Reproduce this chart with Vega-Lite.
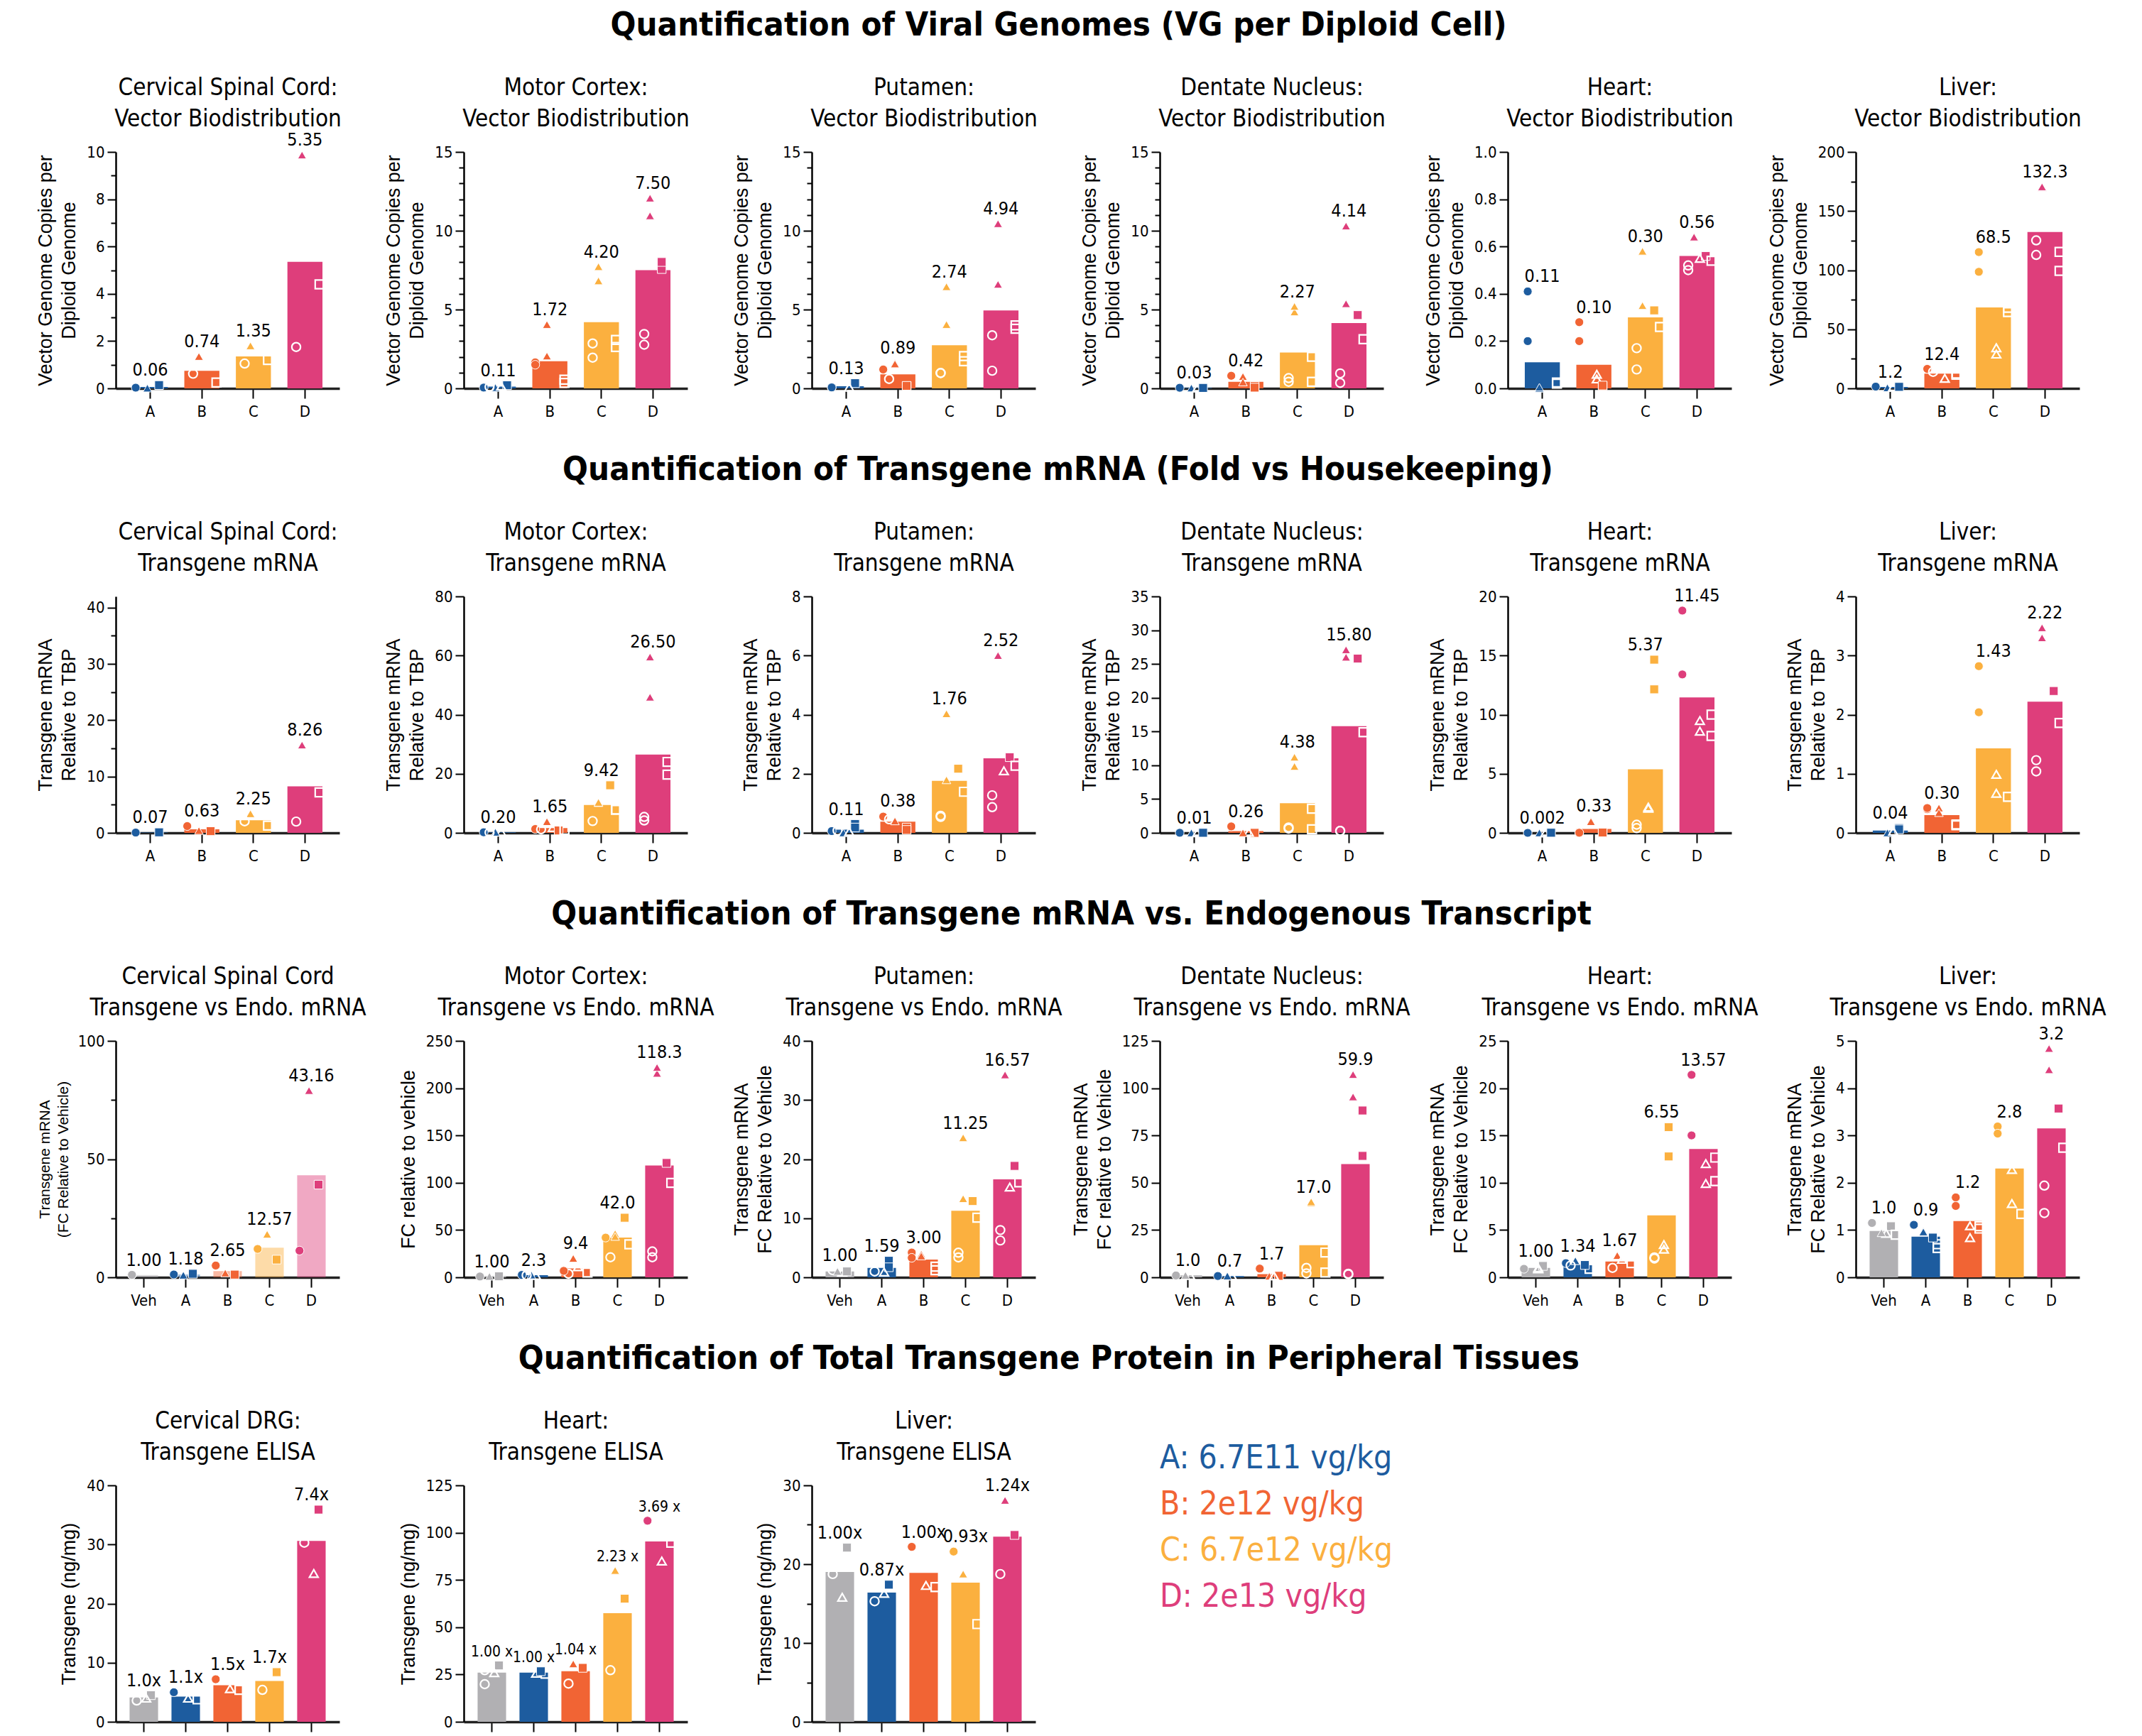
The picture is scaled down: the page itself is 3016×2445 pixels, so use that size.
{
"$schema": "https://vega.github.io/schema/vega-lite/v6.json",
"background": "white",
"padding": {"left": 50, "top": 12, "right": 5, "bottom": 0},
"spacing": 48,
"config": {
 "view": {"stroke": null},
 "font": "DejaVu Sans Condensed, Liberation Sans, sans-serif",
 "title": {"font": "DejaVu Sans Condensed, Liberation Sans, sans-serif", "fontSize": 47, "fontWeight": "bold", "anchor": "middle", "frame": "bounds", "offset": 47, "color": "black"},
 "axis": {"grid": false, "domainColor": "black", "domainWidth": 2.5, "tickColor": "black", "tickWidth": 2, "tickSize": 12, "labelFont": "DejaVu Sans Condensed, Liberation Sans, sans-serif", "labelFontSize": 22, "labelColor": "black", "titleFont": "Liberation Sans", "titleFontSize": 27, "titleFontWeight": "normal", "titleColor": "black", "labelPadding": 4, "titlePadding": 10, "titleLineHeight": 33},
 "axisX": {"labelAngle": 0, "tickSize": 14, "domainWidth": 3.5, "domainColor": "#222222", "labelPadding": 8},
 "scale": {"bandPaddingInner": 0.32, "bandPaddingOuter": 0.33, "bandWithNestedOffsetPaddingInner": 0.32, "bandWithNestedOffsetPaddingOuter": 0.33, "offsetBandPaddingOuter": 2.0},
 "range": {"category": ["#B1B0B3", "#1D5C9F", "#F16434", "#FBB03F", "#DE3E7B"], "symbol": ["circle", "square", "triangle-up", "circle", "square", "triangle-up"]},
 "text": {"font": "DejaVu Sans Condensed, Liberation Sans, sans-serif", "fontSize": 25, "color": "black"}
},
"data": {"values": [
{"p":"1a","g":"A","k":"bar","v":0.06,"l":"0.06"},{"p":"1a","g":"B","k":"bar","v":0.74,"l":"0.74"},{"p":"1a","g":"C","k":"bar","v":1.35,"l":"1.35"},{"p":"1a","g":"D","k":"bar","v":5.35,"l":"5.35"},
{"p":"1b","g":"A","k":"bar","v":0.11,"l":"0.11"},{"p":"1b","g":"B","k":"bar","v":1.72,"l":"1.72"},{"p":"1b","g":"C","k":"bar","v":4.20,"l":"4.20"},{"p":"1b","g":"D","k":"bar","v":7.50,"l":"7.50"},
{"p":"1c","g":"A","k":"bar","v":0.13,"l":"0.13"},{"p":"1c","g":"B","k":"bar","v":0.89,"l":"0.89"},{"p":"1c","g":"C","k":"bar","v":2.74,"l":"2.74"},{"p":"1c","g":"D","k":"bar","v":4.94,"l":"4.94"},
{"p":"1d","g":"A","k":"bar","v":0.03,"l":"0.03"},{"p":"1d","g":"B","k":"bar","v":0.42,"l":"0.42"},{"p":"1d","g":"C","k":"bar","v":2.27,"l":"2.27"},{"p":"1d","g":"D","k":"bar","v":4.14,"l":"4.14"},
{"p":"1e","g":"A","k":"bar","v":0.11,"l":"0.11"},{"p":"1e","g":"B","k":"bar","v":0.10,"l":"0.10"},{"p":"1e","g":"C","k":"bar","v":0.30,"l":"0.30"},{"p":"1e","g":"D","k":"bar","v":0.56,"l":"0.56"},
{"p":"1f","g":"A","k":"bar","v":1.2,"l":"1.2"},{"p":"1f","g":"B","k":"bar","v":12.4,"l":"12.4"},{"p":"1f","g":"C","k":"bar","v":68.5,"l":"68.5"},{"p":"1f","g":"D","k":"bar","v":132.3,"l":"132.3"},
{"p":"2a","g":"A","k":"bar","v":0.07,"l":"0.07"},{"p":"2a","g":"B","k":"bar","v":0.63,"l":"0.63"},{"p":"2a","g":"C","k":"bar","v":2.25,"l":"2.25"},{"p":"2a","g":"D","k":"bar","v":8.26,"l":"8.26"},
{"p":"2b","g":"A","k":"bar","v":0.20,"l":"0.20"},{"p":"2b","g":"B","k":"bar","v":1.65,"l":"1.65"},{"p":"2b","g":"C","k":"bar","v":9.42,"l":"9.42"},{"p":"2b","g":"D","k":"bar","v":26.50,"l":"26.50"},
{"p":"2c","g":"A","k":"bar","v":0.11,"l":"0.11"},{"p":"2c","g":"B","k":"bar","v":0.38,"l":"0.38"},{"p":"2c","g":"C","k":"bar","v":1.76,"l":"1.76"},{"p":"2c","g":"D","k":"bar","v":2.52,"l":"2.52"},
{"p":"2d","g":"A","k":"bar","v":0.01,"l":"0.01"},{"p":"2d","g":"B","k":"bar","v":0.26,"l":"0.26"},{"p":"2d","g":"C","k":"bar","v":4.38,"l":"4.38"},{"p":"2d","g":"D","k":"bar","v":15.80,"l":"15.80"},
{"p":"2e","g":"A","k":"bar","v":0.002,"l":"0.002"},{"p":"2e","g":"B","k":"bar","v":0.33,"l":"0.33"},{"p":"2e","g":"C","k":"bar","v":5.37,"l":"5.37"},{"p":"2e","g":"D","k":"bar","v":11.45,"l":"11.45"},
{"p":"2f","g":"A","k":"bar","v":0.04,"l":"0.04"},{"p":"2f","g":"B","k":"bar","v":0.30,"l":"0.30"},{"p":"2f","g":"C","k":"bar","v":1.43,"l":"1.43"},{"p":"2f","g":"D","k":"bar","v":2.22,"l":"2.22"},
{"p":"3a","g":"Veh","k":"bar","v":1.0,"l":"1.00"},{"p":"3a","g":"A","k":"bar","v":1.18,"l":"1.18"},{"p":"3a","g":"B","k":"bar","v":2.65,"l":"2.65"},{"p":"3a","g":"C","k":"bar","v":12.57,"l":"12.57"},{"p":"3a","g":"D","k":"bar","v":43.16,"l":"43.16"},
{"p":"3b","g":"Veh","k":"bar","v":1.0,"l":"1.00"},{"p":"3b","g":"A","k":"bar","v":2.3,"l":"2.3"},{"p":"3b","g":"B","k":"bar","v":9.4,"l":"9.4"},{"p":"3b","g":"C","k":"bar","v":42.0,"l":"42.0"},{"p":"3b","g":"D","k":"bar","v":118.3,"l":"118.3"},
{"p":"3c","g":"Veh","k":"bar","v":1.0,"l":"1.00"},{"p":"3c","g":"A","k":"bar","v":1.59,"l":"1.59"},{"p":"3c","g":"B","k":"bar","v":3.0,"l":"3.00"},{"p":"3c","g":"C","k":"bar","v":11.25,"l":"11.25"},{"p":"3c","g":"D","k":"bar","v":16.57,"l":"16.57"},
{"p":"3d","g":"Veh","k":"bar","v":1.0,"l":"1.0"},{"p":"3d","g":"A","k":"bar","v":0.7,"l":"0.7"},{"p":"3d","g":"B","k":"bar","v":1.7,"l":"1.7"},{"p":"3d","g":"C","k":"bar","v":17.0,"l":"17.0"},{"p":"3d","g":"D","k":"bar","v":59.9,"l":"59.9"},
{"p":"3e","g":"Veh","k":"bar","v":1.0,"l":"1.00"},{"p":"3e","g":"A","k":"bar","v":1.34,"l":"1.34"},{"p":"3e","g":"B","k":"bar","v":1.67,"l":"1.67"},{"p":"3e","g":"C","k":"bar","v":6.55,"l":"6.55"},{"p":"3e","g":"D","k":"bar","v":13.57,"l":"13.57"},
{"p":"3f","g":"Veh","k":"bar","v":0.98,"l":"1.0"},{"p":"3f","g":"A","k":"bar","v":0.86,"l":"0.9"},{"p":"3f","g":"B","k":"bar","v":1.19,"l":"1.2"},{"p":"3f","g":"C","k":"bar","v":2.30,"l":"2.8"},{"p":"3f","g":"D","k":"bar","v":3.15,"l":"3.2"},
{"p":"4a","g":"Veh","k":"bar","v":4.1,"l":"1.0x"},{"p":"4a","g":"A","k":"bar","v":4.25,"l":"1.1x"},{"p":"4a","g":"B","k":"bar","v":6.2,"l":"1.5x"},{"p":"4a","g":"C","k":"bar","v":6.9,"l":"1.7x"},{"p":"4a","g":"D","k":"bar","v":30.6,"l":"7.4x"},
{"p":"4b","g":"Veh","k":"bar","v":26.0,"l":"1.00 x"},{"p":"4b","g":"A","k":"bar","v":26.0,"l":"1.00 x"},{"p":"4b","g":"B","k":"bar","v":26.7,"l":"1.04 x"},{"p":"4b","g":"C","k":"bar","v":57.4,"l":"2.23 x"},{"p":"4b","g":"D","k":"bar","v":95.3,"l":"3.69 x"},
{"p":"4c","g":"Veh","k":"bar","v":19.0,"l":"1.00x"},{"p":"4c","g":"A","k":"bar","v":16.4,"l":"0.87x"},{"p":"4c","g":"B","k":"bar","v":18.9,"l":"1.00x"},{"p":"4c","g":"C","k":"bar","v":17.65,"l":"0.93x"},{"p":"4c","g":"D","k":"bar","v":23.5,"l":"1.24x"},

{"p":"1a","g":"A","k":"pt","c":1,"v":0.03},{"p":"1a","g":"A","k":"pt","c":2,"v":0.14},{"p":"1a","g":"A","k":"pt","c":3,"v":0.01},
{"p":"1a","g":"B","k":"pt","c":3,"v":1.35},{"p":"1a","g":"B","k":"pt","c":5,"v":0.25},{"p":"1a","g":"B","k":"pt","c":4,"v":0.62},
{"p":"1a","g":"C","k":"pt","c":3,"v":1.8},{"p":"1a","g":"C","k":"pt","c":4,"v":1.05},{"p":"1a","g":"C","k":"pt","c":5,"v":1.2},
{"p":"1a","g":"D","k":"pt","c":3,"v":9.87},{"p":"1a","g":"D","k":"pt","c":5,"v":4.4},{"p":"1a","g":"D","k":"pt","c":4,"v":1.75},

{"p":"1b","g":"A","k":"pt","c":1,"v":0.05},{"p":"1b","g":"A","k":"pt","c":2,"v":0.2},{"p":"1b","g":"A","k":"pt","c":3,"v":0.05},{"p":"1b","g":"A","k":"pt","c":6,"v":0.15},{"p":"1b","g":"A","k":"pt","c":4,"v":0.1},
{"p":"1b","g":"B","k":"pt","c":3,"v":4.05},{"p":"1b","g":"B","k":"pt","c":3,"v":2.05},{"p":"1b","g":"B","k":"pt","c":1,"v":1.65},{"p":"1b","g":"B","k":"pt","c":1,"v":1.5},{"p":"1b","g":"B","k":"pt","c":5,"v":0.35},{"p":"1b","g":"B","k":"pt","c":5,"v":0.55},
{"p":"1b","g":"C","k":"pt","c":3,"v":7.72},{"p":"1b","g":"C","k":"pt","c":3,"v":6.82},{"p":"1b","g":"C","k":"pt","c":5,"v":3.07},{"p":"1b","g":"C","k":"pt","c":4,"v":2.85},{"p":"1b","g":"C","k":"pt","c":5,"v":2.62},{"p":"1b","g":"C","k":"pt","c":4,"v":1.95},
{"p":"1b","g":"D","k":"pt","c":3,"v":12.07},{"p":"1b","g":"D","k":"pt","c":3,"v":10.95},{"p":"1b","g":"D","k":"pt","c":2,"v":7.57},{"p":"1b","g":"D","k":"pt","c":2,"v":8.02},{"p":"1b","g":"D","k":"pt","c":4,"v":2.77},{"p":"1b","g":"D","k":"pt","c":4,"v":3.45},

{"p":"1c","g":"A","k":"pt","c":2,"v":0.33},{"p":"1c","g":"A","k":"pt","c":1,"v":0.05},{"p":"1c","g":"A","k":"pt","c":1,"v":0.06},{"p":"1c","g":"A","k":"pt","c":6,"v":0.08},
{"p":"1c","g":"B","k":"pt","c":3,"v":1.6},{"p":"1c","g":"B","k":"pt","c":3,"v":1.55},{"p":"1c","g":"B","k":"pt","c":1,"v":1.2},{"p":"1c","g":"B","k":"pt","c":2,"v":0.15},{"p":"1c","g":"B","k":"pt","c":2,"v":0.16},{"p":"1c","g":"B","k":"pt","c":4,"v":0.6},
{"p":"1c","g":"C","k":"pt","c":3,"v":6.45},{"p":"1c","g":"C","k":"pt","c":3,"v":4.05},{"p":"1c","g":"C","k":"pt","c":5,"v":1.72},{"p":"1c","g":"C","k":"pt","c":5,"v":2.05},{"p":"1c","g":"C","k":"pt","c":4,"v":0.97},{"p":"1c","g":"C","k":"pt","c":4,"v":0.98},
{"p":"1c","g":"D","k":"pt","c":3,"v":10.45},{"p":"1c","g":"D","k":"pt","c":3,"v":6.6},{"p":"1c","g":"D","k":"pt","c":5,"v":4.0},{"p":"1c","g":"D","k":"pt","c":5,"v":3.78},{"p":"1c","g":"D","k":"pt","c":4,"v":3.37},{"p":"1c","g":"D","k":"pt","c":4,"v":1.12},

{"p":"1d","g":"A","k":"pt","c":3,"v":0.02},{"p":"1d","g":"A","k":"pt","c":6,"v":0.03},{"p":"1d","g":"A","k":"pt","c":1,"v":0.04},{"p":"1d","g":"A","k":"pt","c":2,"v":0.03},
{"p":"1d","g":"B","k":"pt","c":3,"v":0.75},{"p":"1d","g":"B","k":"pt","c":1,"v":0.8},{"p":"1d","g":"B","k":"pt","c":2,"v":0.15},{"p":"1d","g":"B","k":"pt","c":2,"v":0.05},{"p":"1d","g":"B","k":"pt","c":3,"v":0.4},
{"p":"1d","g":"C","k":"pt","c":3,"v":4.85},{"p":"1d","g":"C","k":"pt","c":3,"v":5.2},{"p":"1d","g":"C","k":"pt","c":5,"v":2.0},{"p":"1d","g":"C","k":"pt","c":5,"v":0.42},{"p":"1d","g":"C","k":"pt","c":4,"v":0.65},{"p":"1d","g":"C","k":"pt","c":4,"v":0.42},
{"p":"1d","g":"D","k":"pt","c":3,"v":10.3},{"p":"1d","g":"D","k":"pt","c":3,"v":5.37},{"p":"1d","g":"D","k":"pt","c":2,"v":4.65},{"p":"1d","g":"D","k":"pt","c":5,"v":3.12},{"p":"1d","g":"D","k":"pt","c":4,"v":0.95},{"p":"1d","g":"D","k":"pt","c":4,"v":0.35},

{"p":"1e","g":"A","k":"pt","c":1,"v":0.41},{"p":"1e","g":"A","k":"pt","c":1,"v":0.20},{"p":"1e","g":"A","k":"pt","c":5,"v":0.02},{"p":"1e","g":"A","k":"pt","c":5,"v":0.025},{"p":"1e","g":"A","k":"pt","c":3,"v":0.0},{"p":"1e","g":"A","k":"pt","c":3,"v":0.005},
{"p":"1e","g":"B","k":"pt","c":1,"v":0.28},{"p":"1e","g":"B","k":"pt","c":1,"v":0.20},{"p":"1e","g":"B","k":"pt","c":6,"v":0.06},{"p":"1e","g":"B","k":"pt","c":6,"v":0.04},{"p":"1e","g":"B","k":"pt","c":2,"v":0.01},{"p":"1e","g":"B","k":"pt","c":2,"v":0.012},
{"p":"1e","g":"C","k":"pt","c":3,"v":0.58},{"p":"1e","g":"C","k":"pt","c":3,"v":0.35},{"p":"1e","g":"C","k":"pt","c":2,"v":0.33},{"p":"1e","g":"C","k":"pt","c":5,"v":0.26},{"p":"1e","g":"C","k":"pt","c":4,"v":0.17},{"p":"1e","g":"C","k":"pt","c":4,"v":0.08},
{"p":"1e","g":"D","k":"pt","c":3,"v":0.64},{"p":"1e","g":"D","k":"pt","c":2,"v":0.56},{"p":"1e","g":"D","k":"pt","c":6,"v":0.55},{"p":"1e","g":"D","k":"pt","c":4,"v":0.50},{"p":"1e","g":"D","k":"pt","c":4,"v":0.52},{"p":"1e","g":"D","k":"pt","c":5,"v":0.54},

{"p":"1f","g":"A","k":"pt","c":3,"v":0.5},{"p":"1f","g":"A","k":"pt","c":6,"v":1.5},{"p":"1f","g":"A","k":"pt","c":1,"v":1.5},{"p":"1f","g":"A","k":"pt","c":2,"v":1.3},
{"p":"1f","g":"B","k":"pt","c":1,"v":16.5},{"p":"1f","g":"B","k":"pt","c":5,"v":12.5},{"p":"1f","g":"B","k":"pt","c":5,"v":11.5},{"p":"1f","g":"B","k":"pt","c":4,"v":14},{"p":"1f","g":"B","k":"pt","c":6,"v":8.5},
{"p":"1f","g":"C","k":"pt","c":1,"v":115.3},{"p":"1f","g":"C","k":"pt","c":1,"v":98.6},{"p":"1f","g":"C","k":"pt","c":5,"v":64.6},{"p":"1f","g":"C","k":"pt","c":5,"v":68.2},{"p":"1f","g":"C","k":"pt","c":6,"v":29},{"p":"1f","g":"C","k":"pt","c":6,"v":34.4},
{"p":"1f","g":"D","k":"pt","c":3,"v":170},{"p":"1f","g":"D","k":"pt","c":3,"v":170.5},{"p":"1f","g":"D","k":"pt","c":4,"v":125.2},{"p":"1f","g":"D","k":"pt","c":4,"v":112.9},{"p":"1f","g":"D","k":"pt","c":5,"v":115.5},{"p":"1f","g":"D","k":"pt","c":5,"v":99.4},

{"p":"2a","g":"A","k":"pt","c":1,"v":0.05},{"p":"2a","g":"A","k":"pt","c":2,"v":0.1},
{"p":"2a","g":"B","k":"pt","c":2,"v":0.3},{"p":"2a","g":"B","k":"pt","c":1,"v":1.2},{"p":"2a","g":"B","k":"pt","c":3,"v":0.4},
{"p":"2a","g":"C","k":"pt","c":3,"v":3.4},{"p":"2a","g":"C","k":"pt","c":4,"v":2.05},{"p":"2a","g":"C","k":"pt","c":5,"v":1.3},
{"p":"2a","g":"D","k":"pt","c":3,"v":15.6},{"p":"2a","g":"D","k":"pt","c":5,"v":7.2},{"p":"2a","g":"D","k":"pt","c":4,"v":2.0},

{"p":"2b","g":"A","k":"pt","c":1,"v":0.2},{"p":"2b","g":"A","k":"pt","c":6,"v":0.3},{"p":"2b","g":"A","k":"pt","c":3,"v":0.2},{"p":"2b","g":"A","k":"pt","c":4,"v":0.1},
{"p":"2b","g":"B","k":"pt","c":3,"v":3.8},{"p":"2b","g":"B","k":"pt","c":6,"v":1.8},{"p":"2b","g":"B","k":"pt","c":1,"v":1.3},{"p":"2b","g":"B","k":"pt","c":2,"v":0.8},{"p":"2b","g":"B","k":"pt","c":4,"v":1.2},{"p":"2b","g":"B","k":"pt","c":5,"v":1.0},
{"p":"2b","g":"C","k":"pt","c":2,"v":16.1},{"p":"2b","g":"C","k":"pt","c":3,"v":10.2},{"p":"2b","g":"C","k":"pt","c":3,"v":10.3},{"p":"2b","g":"C","k":"pt","c":5,"v":7.9},{"p":"2b","g":"C","k":"pt","c":5,"v":7.8},{"p":"2b","g":"C","k":"pt","c":4,"v":4.0},
{"p":"2b","g":"D","k":"pt","c":3,"v":59.5},{"p":"2b","g":"D","k":"pt","c":3,"v":45.9},{"p":"2b","g":"D","k":"pt","c":5,"v":24.0},{"p":"2b","g":"D","k":"pt","c":5,"v":19.7},{"p":"2b","g":"D","k":"pt","c":4,"v":4.2},{"p":"2b","g":"D","k":"pt","c":4,"v":5.4},

{"p":"2c","g":"A","k":"pt","c":2,"v":0.3},{"p":"2c","g":"A","k":"pt","c":2,"v":0.18},{"p":"2c","g":"A","k":"pt","c":1,"v":0.06},{"p":"2c","g":"A","k":"pt","c":4,"v":0.08},{"p":"2c","g":"A","k":"pt","c":3,"v":0.0},{"p":"2c","g":"A","k":"pt","c":6,"v":0.04},
{"p":"2c","g":"B","k":"pt","c":6,"v":0.58},{"p":"2c","g":"B","k":"pt","c":1,"v":0.55},{"p":"2c","g":"B","k":"pt","c":4,"v":0.46},{"p":"2c","g":"B","k":"pt","c":2,"v":0.18},{"p":"2c","g":"B","k":"pt","c":2,"v":0.1},{"p":"2c","g":"B","k":"pt","c":3,"v":0.4},
{"p":"2c","g":"C","k":"pt","c":3,"v":4.03},{"p":"2c","g":"C","k":"pt","c":2,"v":2.17},{"p":"2c","g":"C","k":"pt","c":3,"v":1.79},{"p":"2c","g":"C","k":"pt","c":5,"v":1.39},{"p":"2c","g":"C","k":"pt","c":4,"v":0.54},{"p":"2c","g":"C","k":"pt","c":4,"v":0.58},
{"p":"2c","g":"D","k":"pt","c":3,"v":6.0},{"p":"2c","g":"D","k":"pt","c":2,"v":2.56},{"p":"2c","g":"D","k":"pt","c":5,"v":2.27},{"p":"2c","g":"D","k":"pt","c":6,"v":2.10},{"p":"2c","g":"D","k":"pt","c":4,"v":1.27},{"p":"2c","g":"D","k":"pt","c":4,"v":0.87},

{"p":"2d","g":"A","k":"pt","c":3,"v":0.0},{"p":"2d","g":"A","k":"pt","c":6,"v":0.02},{"p":"2d","g":"A","k":"pt","c":2,"v":0.01},{"p":"2d","g":"A","k":"pt","c":1,"v":0.01},
{"p":"2d","g":"B","k":"pt","c":1,"v":0.95},{"p":"2d","g":"B","k":"pt","c":2,"v":0.0},{"p":"2d","g":"B","k":"pt","c":6,"v":0.1},{"p":"2d","g":"B","k":"pt","c":3,"v":0.0},
{"p":"2d","g":"C","k":"pt","c":3,"v":9.83},{"p":"2d","g":"C","k":"pt","c":3,"v":11.2},{"p":"2d","g":"C","k":"pt","c":5,"v":3.58},{"p":"2d","g":"C","k":"pt","c":4,"v":0.63},{"p":"2d","g":"C","k":"pt","c":4,"v":0.8},{"p":"2d","g":"C","k":"pt","c":5,"v":0.52},
{"p":"2d","g":"D","k":"pt","c":3,"v":27.1},{"p":"2d","g":"D","k":"pt","c":3,"v":26.0},{"p":"2d","g":"D","k":"pt","c":2,"v":25.8},{"p":"2d","g":"D","k":"pt","c":5,"v":14.9},{"p":"2d","g":"D","k":"pt","c":4,"v":0.28},{"p":"2d","g":"D","k":"pt","c":4,"v":0.3},

{"p":"2e","g":"A","k":"pt","c":3,"v":0.0},{"p":"2e","g":"A","k":"pt","c":6,"v":0.0},{"p":"2e","g":"A","k":"pt","c":2,"v":0.01},{"p":"2e","g":"A","k":"pt","c":1,"v":0.0},
{"p":"2e","g":"B","k":"pt","c":3,"v":1.0},{"p":"2e","g":"B","k":"pt","c":3,"v":0.95},{"p":"2e","g":"B","k":"pt","c":1,"v":0.0},{"p":"2e","g":"B","k":"pt","c":1,"v":0.01},{"p":"2e","g":"B","k":"pt","c":2,"v":0.0},{"p":"2e","g":"B","k":"pt","c":2,"v":0.03},
{"p":"2e","g":"C","k":"pt","c":2,"v":14.65},{"p":"2e","g":"C","k":"pt","c":2,"v":12.14},{"p":"2e","g":"C","k":"pt","c":6,"v":2.08},{"p":"2e","g":"C","k":"pt","c":6,"v":2.18},{"p":"2e","g":"C","k":"pt","c":4,"v":0.4},{"p":"2e","g":"C","k":"pt","c":4,"v":0.69},
{"p":"2e","g":"D","k":"pt","c":1,"v":18.8},{"p":"2e","g":"D","k":"pt","c":1,"v":13.4},{"p":"2e","g":"D","k":"pt","c":5,"v":10.0},{"p":"2e","g":"D","k":"pt","c":6,"v":9.5},{"p":"2e","g":"D","k":"pt","c":5,"v":8.2},{"p":"2e","g":"D","k":"pt","c":6,"v":8.6},

{"p":"2f","g":"A","k":"pt","c":3,"v":0.0},{"p":"2f","g":"A","k":"pt","c":2,"v":0.08},{"p":"2f","g":"A","k":"pt","c":2,"v":0.06},{"p":"2f","g":"A","k":"pt","c":6,"v":0.03},
{"p":"2f","g":"B","k":"pt","c":1,"v":0.40},{"p":"2f","g":"B","k":"pt","c":1,"v":0.42},{"p":"2f","g":"B","k":"pt","c":3,"v":0.42},{"p":"2f","g":"B","k":"pt","c":3,"v":0.34},{"p":"2f","g":"B","k":"pt","c":5,"v":0.13},{"p":"2f","g":"B","k":"pt","c":5,"v":0.14},
{"p":"2f","g":"C","k":"pt","c":1,"v":2.82},{"p":"2f","g":"C","k":"pt","c":1,"v":2.04},{"p":"2f","g":"C","k":"pt","c":6,"v":0.99},{"p":"2f","g":"C","k":"pt","c":6,"v":0.67},{"p":"2f","g":"C","k":"pt","c":5,"v":0.61},
{"p":"2f","g":"D","k":"pt","c":3,"v":3.30},{"p":"2f","g":"D","k":"pt","c":3,"v":3.47},{"p":"2f","g":"D","k":"pt","c":2,"v":2.40},{"p":"2f","g":"D","k":"pt","c":5,"v":1.86},{"p":"2f","g":"D","k":"pt","c":4,"v":1.04},{"p":"2f","g":"D","k":"pt","c":4,"v":1.23},

{"p":"3a","g":"Veh","k":"pt","c":1,"v":1.0},{"p":"3a","g":"Veh","k":"pt","c":1,"v":1.05},
{"p":"3a","g":"A","k":"pt","c":1,"v":1.2},{"p":"3a","g":"A","k":"pt","c":2,"v":1.5},{"p":"3a","g":"A","k":"pt","c":3,"v":0.9},
{"p":"3a","g":"B","k":"pt","c":1,"v":5.0},{"p":"3a","g":"B","k":"pt","c":3,"v":1.8},{"p":"3a","g":"B","k":"pt","c":2,"v":1.15},
{"p":"3a","g":"C","k":"pt","c":3,"v":18.2},{"p":"3a","g":"C","k":"pt","c":1,"v":12.0},{"p":"3a","g":"C","k":"pt","c":2,"v":7.5},
{"p":"3a","g":"D","k":"pt","c":3,"v":79},{"p":"3a","g":"D","k":"pt","c":2,"v":39.2},{"p":"3a","g":"D","k":"pt","c":1,"v":11.3},

{"p":"3b","g":"Veh","k":"pt","c":3,"v":1},{"p":"3b","g":"Veh","k":"pt","c":2,"v":1.1},{"p":"3b","g":"Veh","k":"pt","c":1,"v":0.9},
{"p":"3b","g":"A","k":"pt","c":1,"v":2.5},{"p":"3b","g":"A","k":"pt","c":6,"v":2.0},{"p":"3b","g":"A","k":"pt","c":3,"v":2.4},{"p":"3b","g":"A","k":"pt","c":4,"v":2.3},
{"p":"3b","g":"B","k":"pt","c":3,"v":20},{"p":"3b","g":"B","k":"pt","c":6,"v":11.2},{"p":"3b","g":"B","k":"pt","c":5,"v":5.0},{"p":"3b","g":"B","k":"pt","c":4,"v":3.8},{"p":"3b","g":"B","k":"pt","c":1,"v":6.8},
{"p":"3b","g":"C","k":"pt","c":2,"v":63},{"p":"3b","g":"C","k":"pt","c":3,"v":46.1},{"p":"3b","g":"C","k":"pt","c":3,"v":43.1},{"p":"3b","g":"C","k":"pt","c":1,"v":42},{"p":"3b","g":"C","k":"pt","c":5,"v":34.9},{"p":"3b","g":"C","k":"pt","c":4,"v":21.2},
{"p":"3b","g":"D","k":"pt","c":3,"v":215.7},{"p":"3b","g":"D","k":"pt","c":3,"v":221.9},{"p":"3b","g":"D","k":"pt","c":2,"v":120.9},{"p":"3b","g":"D","k":"pt","c":5,"v":99.8},{"p":"3b","g":"D","k":"pt","c":4,"v":21.2},{"p":"3b","g":"D","k":"pt","c":4,"v":27.4},

{"p":"3c","g":"Veh","k":"pt","c":4,"v":1.2},{"p":"3c","g":"Veh","k":"pt","c":6,"v":0.9},{"p":"3c","g":"Veh","k":"pt","c":2,"v":1.0},{"p":"3c","g":"Veh","k":"pt","c":3,"v":1.0},
{"p":"3c","g":"A","k":"pt","c":2,"v":2.8},{"p":"3c","g":"A","k":"pt","c":2,"v":1.7},{"p":"3c","g":"A","k":"pt","c":4,"v":1.0},{"p":"3c","g":"A","k":"pt","c":6,"v":0.9},
{"p":"3c","g":"B","k":"pt","c":1,"v":4.2},{"p":"3c","g":"B","k":"pt","c":3,"v":3.9},{"p":"3c","g":"B","k":"pt","c":1,"v":3.3},{"p":"3c","g":"B","k":"pt","c":5,"v":1.8},{"p":"3c","g":"B","k":"pt","c":5,"v":1.2},{"p":"3c","g":"B","k":"pt","c":3,"v":3.6},
{"p":"3c","g":"C","k":"pt","c":3,"v":23.6},{"p":"3c","g":"C","k":"pt","c":3,"v":13.3},{"p":"3c","g":"C","k":"pt","c":2,"v":12.9},{"p":"3c","g":"C","k":"pt","c":5,"v":10.1},{"p":"3c","g":"C","k":"pt","c":4,"v":3.37},{"p":"3c","g":"C","k":"pt","c":4,"v":4.17},
{"p":"3c","g":"D","k":"pt","c":3,"v":34.25},{"p":"3c","g":"D","k":"pt","c":2,"v":18.85},{"p":"3c","g":"D","k":"pt","c":5,"v":16.07},{"p":"3c","g":"D","k":"pt","c":6,"v":15.28},{"p":"3c","g":"D","k":"pt","c":4,"v":8.0},{"p":"3c","g":"D","k":"pt","c":4,"v":6.23},

{"p":"3d","g":"Veh","k":"pt","c":1,"v":1.0},{"p":"3d","g":"Veh","k":"pt","c":6,"v":1.0},{"p":"3d","g":"Veh","k":"pt","c":3,"v":1.0},
{"p":"3d","g":"A","k":"pt","c":1,"v":0.7},{"p":"3d","g":"A","k":"pt","c":6,"v":0.7},{"p":"3d","g":"A","k":"pt","c":3,"v":0.7},
{"p":"3d","g":"B","k":"pt","c":1,"v":4.6},{"p":"3d","g":"B","k":"pt","c":2,"v":0.8},{"p":"3d","g":"B","k":"pt","c":3,"v":0.6},{"p":"3d","g":"B","k":"pt","c":6,"v":0.8},
{"p":"3d","g":"C","k":"pt","c":3,"v":39.3},{"p":"3d","g":"C","k":"pt","c":3,"v":39.9},{"p":"3d","g":"C","k":"pt","c":5,"v":13.1},{"p":"3d","g":"C","k":"pt","c":4,"v":5.0},{"p":"3d","g":"C","k":"pt","c":4,"v":2.1},{"p":"3d","g":"C","k":"pt","c":5,"v":2.5},
{"p":"3d","g":"D","k":"pt","c":3,"v":107.2},{"p":"3d","g":"D","k":"pt","c":3,"v":95.4},{"p":"3d","g":"D","k":"pt","c":2,"v":88.2},{"p":"3d","g":"D","k":"pt","c":2,"v":64.2},{"p":"3d","g":"D","k":"pt","c":4,"v":1.6},{"p":"3d","g":"D","k":"pt","c":4,"v":1.9},

{"p":"3e","g":"Veh","k":"pt","c":2,"v":1.2},{"p":"3e","g":"Veh","k":"pt","c":6,"v":0.9},{"p":"3e","g":"Veh","k":"pt","c":6,"v":1.0},{"p":"3e","g":"Veh","k":"pt","c":1,"v":0.9},
{"p":"3e","g":"A","k":"pt","c":3,"v":1.75},{"p":"3e","g":"A","k":"pt","c":1,"v":1.5},{"p":"3e","g":"A","k":"pt","c":4,"v":1.25},{"p":"3e","g":"A","k":"pt","c":5,"v":0.9},{"p":"3e","g":"A","k":"pt","c":2,"v":1.3},
{"p":"3e","g":"B","k":"pt","c":3,"v":2.3},{"p":"3e","g":"B","k":"pt","c":6,"v":1.9},{"p":"3e","g":"B","k":"pt","c":5,"v":1.5},{"p":"3e","g":"B","k":"pt","c":4,"v":1.0},
{"p":"3e","g":"C","k":"pt","c":2,"v":15.88},{"p":"3e","g":"C","k":"pt","c":2,"v":12.78},{"p":"3e","g":"C","k":"pt","c":6,"v":3.47},{"p":"3e","g":"C","k":"pt","c":6,"v":2.98},{"p":"3e","g":"C","k":"pt","c":4,"v":1.99},{"p":"3e","g":"C","k":"pt","c":4,"v":2.11},
{"p":"3e","g":"D","k":"pt","c":1,"v":21.41},{"p":"3e","g":"D","k":"pt","c":1,"v":15.01},{"p":"3e","g":"D","k":"pt","c":5,"v":12.66},{"p":"3e","g":"D","k":"pt","c":5,"v":10.17},{"p":"3e","g":"D","k":"pt","c":6,"v":12.03},{"p":"3e","g":"D","k":"pt","c":6,"v":9.93},

{"p":"3f","g":"Veh","k":"pt","c":1,"v":1.15},{"p":"3f","g":"Veh","k":"pt","c":2,"v":1.08},{"p":"3f","g":"Veh","k":"pt","c":6,"v":0.93},{"p":"3f","g":"Veh","k":"pt","c":5,"v":0.9},{"p":"3f","g":"Veh","k":"pt","c":3,"v":0.94},
{"p":"3f","g":"A","k":"pt","c":1,"v":1.11},{"p":"3f","g":"A","k":"pt","c":3,"v":0.97},{"p":"3f","g":"A","k":"pt","c":3,"v":0.96},{"p":"3f","g":"A","k":"pt","c":5,"v":0.62},{"p":"3f","g":"A","k":"pt","c":5,"v":0.70},{"p":"3f","g":"A","k":"pt","c":2,"v":0.84},
{"p":"3f","g":"B","k":"pt","c":1,"v":1.69},{"p":"3f","g":"B","k":"pt","c":1,"v":1.51},{"p":"3f","g":"B","k":"pt","c":6,"v":1.09},{"p":"3f","g":"B","k":"pt","c":6,"v":0.84},{"p":"3f","g":"B","k":"pt","c":5,"v":1.03},{"p":"3f","g":"B","k":"pt","c":5,"v":1.08},
{"p":"3f","g":"C","k":"pt","c":1,"v":3.19},{"p":"3f","g":"C","k":"pt","c":1,"v":3.04},{"p":"3f","g":"C","k":"pt","c":6,"v":2.28},{"p":"3f","g":"C","k":"pt","c":6,"v":1.56},{"p":"3f","g":"C","k":"pt","c":5,"v":1.34},
{"p":"3f","g":"D","k":"pt","c":3,"v":4.84},{"p":"3f","g":"D","k":"pt","c":3,"v":4.39},{"p":"3f","g":"D","k":"pt","c":2,"v":3.57},{"p":"3f","g":"D","k":"pt","c":5,"v":2.74},{"p":"3f","g":"D","k":"pt","c":4,"v":1.94},{"p":"3f","g":"D","k":"pt","c":4,"v":1.36},

{"p":"4a","g":"Veh","k":"pt","c":4,"v":3.6},{"p":"4a","g":"Veh","k":"pt","c":2,"v":4.5},{"p":"4a","g":"Veh","k":"pt","c":6,"v":4.0},
{"p":"4a","g":"A","k":"pt","c":1,"v":5.0},{"p":"4a","g":"A","k":"pt","c":5,"v":3.8},{"p":"4a","g":"A","k":"pt","c":6,"v":4.0},
{"p":"4a","g":"B","k":"pt","c":1,"v":7.2},{"p":"4a","g":"B","k":"pt","c":5,"v":5.4},{"p":"4a","g":"B","k":"pt","c":6,"v":5.6},
{"p":"4a","g":"C","k":"pt","c":2,"v":8.4},{"p":"4a","g":"C","k":"pt","c":4,"v":5.4},
{"p":"4a","g":"D","k":"pt","c":2,"v":35.9},{"p":"4a","g":"D","k":"pt","c":4,"v":30.3},{"p":"4a","g":"D","k":"pt","c":6,"v":25.1},

{"p":"4b","g":"Veh","k":"pt","c":2,"v":29.8},{"p":"4b","g":"Veh","k":"pt","c":4,"v":27.3},{"p":"4b","g":"Veh","k":"pt","c":6,"v":26.0},{"p":"4b","g":"Veh","k":"pt","c":4,"v":19.9},
{"p":"4b","g":"A","k":"pt","c":5,"v":25.4},{"p":"4b","g":"A","k":"pt","c":6,"v":25.7},{"p":"4b","g":"A","k":"pt","c":2,"v":26.7},
{"p":"4b","g":"B","k":"pt","c":3,"v":30.6},{"p":"4b","g":"B","k":"pt","c":2,"v":28.5},{"p":"4b","g":"B","k":"pt","c":4,"v":20.2},
{"p":"4b","g":"C","k":"pt","c":3,"v":80.0},{"p":"4b","g":"C","k":"pt","c":2,"v":65.1},{"p":"4b","g":"C","k":"pt","c":4,"v":27.3},
{"p":"4b","g":"D","k":"pt","c":1,"v":106.3},{"p":"4b","g":"D","k":"pt","c":5,"v":94.7},{"p":"4b","g":"D","k":"pt","c":6,"v":85.0},

{"p":"4c","g":"Veh","k":"pt","c":2,"v":22.1},{"p":"4c","g":"Veh","k":"pt","c":4,"v":18.75},{"p":"4c","g":"Veh","k":"pt","c":6,"v":15.8},
{"p":"4c","g":"A","k":"pt","c":2,"v":17.4},{"p":"4c","g":"A","k":"pt","c":4,"v":15.3},{"p":"4c","g":"A","k":"pt","c":6,"v":16.3},
{"p":"4c","g":"B","k":"pt","c":1,"v":22.2},{"p":"4c","g":"B","k":"pt","c":5,"v":17.1},{"p":"4c","g":"B","k":"pt","c":6,"v":17.3},
{"p":"4c","g":"C","k":"pt","c":1,"v":21.6},{"p":"4c","g":"C","k":"pt","c":3,"v":18.75},{"p":"4c","g":"C","k":"pt","c":5,"v":12.4},
{"p":"4c","g":"D","k":"pt","c":3,"v":28.1},{"p":"4c","g":"D","k":"pt","c":2,"v":23.7},{"p":"4c","g":"D","k":"pt","c":4,"v":18.75}
]},
"vconcat": [
{
 "title": {"text": "Quantification of Viral Genomes (VG per Diploid Cell)"},
 "bounds": "flush",
 "spacing": 175,
 "hconcat": [
  {"width": 315, "height": 333, "transform": [{"filter": "datum.p == '1a'"}],
   "resolve": {"scale": {"xOffset": "independent"}, "axis": {"x": "independent"}},
   "encoding": {"x": {"field": "g", "type": "nominal", "title": null, "scale": {"domain": ["A","B","C","D"]}},
     "y": {"field": "v", "type": "quantitative", "scale": {"domain": [0,10], "nice": false}, "axis": {"title": ["Vector Genome Copies per", "Diploid Genome"], "values": [0,1,2,3,4,5,6,7,8,9,10], "labelExpr": "datum.value % 2 ? '' : datum.label", "tickSize": {"condition": {"test": "datum.value % 2", "value": 7}, "value": 12}}}},
   "layer": [
    {"transform": [{"filter": "datum.k == 'bar'"}], "mark": "bar", "encoding": {"color": {"field": "g", "type": "nominal", "scale": {"domain": ["Veh","A","B","C","D"]}, "legend": null}}},
    {"transform": [{"filter": "datum.k == 'pt'"}], "mark": {"type": "point", "filled": true, "size": 150, "stroke": "white", "opacity": 1},
     "encoding": {"x": {"field": "g", "type": "nominal", "scale": {"domain": ["A","B","C","D"]}, "axis": {"orient": "top", "title": ["Cervical Spinal Cord:", "Vector Biodistribution"], "labels": false, "ticks": false, "domain": false, "titleFont": "DejaVu Sans Condensed, Liberation Sans, sans-serif", "titleFontSize": 33, "titleLineHeight": 44, "titlePadding": 30, "titleFontWeight": "normal"}},
      "xOffset": {"field": "c", "type": "nominal", "scale": {"domain": [1,4,3,6,2,5]}}, "shape": {"field": "c", "type": "nominal", "scale": {"domain": [1,2,3,4,5,6]}, "legend": null}, "fill": {"condition": {"test": "datum.c > 3", "value": "transparent"}, "field": "g", "type": "nominal", "scale": {"domain": ["Veh","A","B","C","D"]}, "legend": null}, "strokeWidth": {"condition": {"test": "datum.c > 3", "value": 2.2}, "value": 1}}},
    {"transform": [{"joinaggregate": [{"op": "max", "field": "v", "as": "top"}], "groupby": ["g"]}, {"filter": "datum.k == 'bar'"}], "mark": {"type": "text", "dy": -13, "baseline": "alphabetic"},
     "encoding": {"x": {"field": "g", "type": "nominal", "scale": {"domain": ["A","B","C","D"]}, "axis": null}, "y": {"field": "top", "type": "quantitative", "scale": {"domain": [0,10], "nice": false}}, "text": {"field": "l"}}}
   ]},
  {"width": 315, "height": 333, "transform": [{"filter": "datum.p == '1b'"}],
   "resolve": {"scale": {"xOffset": "independent"}, "axis": {"x": "independent"}},
   "encoding": {"x": {"field": "g", "type": "nominal", "title": null, "scale": {"domain": ["A","B","C","D"]}},
     "y": {"field": "v", "type": "quantitative", "scale": {"domain": [0,15], "nice": false}, "axis": {"title": ["Vector Genome Copies per", "Diploid Genome"], "values": [0,1,2,3,4,5,6,7,8,9,10,11,12,13,14,15], "labelExpr": "datum.value % 5 ? '' : datum.label", "tickSize": {"condition": {"test": "datum.value % 5", "value": 7}, "value": 12}}}},
   "layer": [
    {"transform": [{"filter": "datum.k == 'bar'"}], "mark": "bar", "encoding": {"color": {"field": "g", "type": "nominal", "scale": {"domain": ["Veh","A","B","C","D"]}, "legend": null}}},
    {"transform": [{"filter": "datum.k == 'pt'"}], "mark": {"type": "point", "filled": true, "size": 150, "stroke": "white", "opacity": 1},
     "encoding": {"x": {"field": "g", "type": "nominal", "scale": {"domain": ["A","B","C","D"]}, "axis": {"orient": "top", "title": ["Motor Cortex:", "Vector Biodistribution"], "labels": false, "ticks": false, "domain": false, "titleFont": "DejaVu Sans Condensed, Liberation Sans, sans-serif", "titleFontSize": 33, "titleLineHeight": 44, "titlePadding": 30, "titleFontWeight": "normal"}},
      "xOffset": {"field": "c", "type": "nominal", "scale": {"domain": [1,4,3,6,2,5]}}, "shape": {"field": "c", "type": "nominal", "scale": {"domain": [1,2,3,4,5,6]}, "legend": null}, "fill": {"condition": {"test": "datum.c > 3", "value": "transparent"}, "field": "g", "type": "nominal", "scale": {"domain": ["Veh","A","B","C","D"]}, "legend": null}, "strokeWidth": {"condition": {"test": "datum.c > 3", "value": 2.2}, "value": 1}}},
    {"transform": [{"joinaggregate": [{"op": "max", "field": "v", "as": "top"}], "groupby": ["g"]}, {"filter": "datum.k == 'bar'"}], "mark": {"type": "text", "dy": -13, "baseline": "alphabetic"},
     "encoding": {"x": {"field": "g", "type": "nominal", "scale": {"domain": ["A","B","C","D"]}, "axis": null}, "y": {"field": "top", "type": "quantitative", "scale": {"domain": [0,15], "nice": false}}, "text": {"field": "l"}}}
   ]},
  {"width": 315, "height": 333, "transform": [{"filter": "datum.p == '1c'"}],
   "resolve": {"scale": {"xOffset": "independent"}, "axis": {"x": "independent"}},
   "encoding": {"x": {"field": "g", "type": "nominal", "title": null, "scale": {"domain": ["A","B","C","D"]}},
     "y": {"field": "v", "type": "quantitative", "scale": {"domain": [0,15], "nice": false}, "axis": {"title": ["Vector Genome Copies per", "Diploid Genome"], "values": [0,1,2,3,4,5,6,7,8,9,10,11,12,13,14,15], "labelExpr": "datum.value % 5 ? '' : datum.label", "tickSize": {"condition": {"test": "datum.value % 5", "value": 7}, "value": 12}}}},
   "layer": [
    {"transform": [{"filter": "datum.k == 'bar'"}], "mark": "bar", "encoding": {"color": {"field": "g", "type": "nominal", "scale": {"domain": ["Veh","A","B","C","D"]}, "legend": null}}},
    {"transform": [{"filter": "datum.k == 'pt'"}], "mark": {"type": "point", "filled": true, "size": 150, "stroke": "white", "opacity": 1},
     "encoding": {"x": {"field": "g", "type": "nominal", "scale": {"domain": ["A","B","C","D"]}, "axis": {"orient": "top", "title": ["Putamen:", "Vector Biodistribution"], "labels": false, "ticks": false, "domain": false, "titleFont": "DejaVu Sans Condensed, Liberation Sans, sans-serif", "titleFontSize": 33, "titleLineHeight": 44, "titlePadding": 30, "titleFontWeight": "normal"}},
      "xOffset": {"field": "c", "type": "nominal", "scale": {"domain": [1,4,3,6,2,5]}}, "shape": {"field": "c", "type": "nominal", "scale": {"domain": [1,2,3,4,5,6]}, "legend": null}, "fill": {"condition": {"test": "datum.c > 3", "value": "transparent"}, "field": "g", "type": "nominal", "scale": {"domain": ["Veh","A","B","C","D"]}, "legend": null}, "strokeWidth": {"condition": {"test": "datum.c > 3", "value": 2.2}, "value": 1}}},
    {"transform": [{"joinaggregate": [{"op": "max", "field": "v", "as": "top"}], "groupby": ["g"]}, {"filter": "datum.k == 'bar'"}], "mark": {"type": "text", "dy": -13, "baseline": "alphabetic"},
     "encoding": {"x": {"field": "g", "type": "nominal", "scale": {"domain": ["A","B","C","D"]}, "axis": null}, "y": {"field": "top", "type": "quantitative", "scale": {"domain": [0,15], "nice": false}}, "text": {"field": "l"}}}
   ]},
  {"width": 315, "height": 333, "transform": [{"filter": "datum.p == '1d'"}],
   "resolve": {"scale": {"xOffset": "independent"}, "axis": {"x": "independent"}},
   "encoding": {"x": {"field": "g", "type": "nominal", "title": null, "scale": {"domain": ["A","B","C","D"]}},
     "y": {"field": "v", "type": "quantitative", "scale": {"domain": [0,15], "nice": false}, "axis": {"title": ["Vector Genome Copies per", "Diploid Genome"], "values": [0,1,2,3,4,5,6,7,8,9,10,11,12,13,14,15], "labelExpr": "datum.value % 5 ? '' : datum.label", "tickSize": {"condition": {"test": "datum.value % 5", "value": 7}, "value": 12}}}},
   "layer": [
    {"transform": [{"filter": "datum.k == 'bar'"}], "mark": "bar", "encoding": {"color": {"field": "g", "type": "nominal", "scale": {"domain": ["Veh","A","B","C","D"]}, "legend": null}}},
    {"transform": [{"filter": "datum.k == 'pt'"}], "mark": {"type": "point", "filled": true, "size": 150, "stroke": "white", "opacity": 1},
     "encoding": {"x": {"field": "g", "type": "nominal", "scale": {"domain": ["A","B","C","D"]}, "axis": {"orient": "top", "title": ["Dentate Nucleus:", "Vector Biodistribution"], "labels": false, "ticks": false, "domain": false, "titleFont": "DejaVu Sans Condensed, Liberation Sans, sans-serif", "titleFontSize": 33, "titleLineHeight": 44, "titlePadding": 30, "titleFontWeight": "normal"}},
      "xOffset": {"field": "c", "type": "nominal", "scale": {"domain": [1,4,3,6,2,5]}}, "shape": {"field": "c", "type": "nominal", "scale": {"domain": [1,2,3,4,5,6]}, "legend": null}, "fill": {"condition": {"test": "datum.c > 3", "value": "transparent"}, "field": "g", "type": "nominal", "scale": {"domain": ["Veh","A","B","C","D"]}, "legend": null}, "strokeWidth": {"condition": {"test": "datum.c > 3", "value": 2.2}, "value": 1}}},
    {"transform": [{"joinaggregate": [{"op": "max", "field": "v", "as": "top"}], "groupby": ["g"]}, {"filter": "datum.k == 'bar'"}], "mark": {"type": "text", "dy": -13, "baseline": "alphabetic"},
     "encoding": {"x": {"field": "g", "type": "nominal", "scale": {"domain": ["A","B","C","D"]}, "axis": null}, "y": {"field": "top", "type": "quantitative", "scale": {"domain": [0,15], "nice": false}}, "text": {"field": "l"}}}
   ]},
  {"width": 315, "height": 333, "transform": [{"filter": "datum.p == '1e'"}],
   "resolve": {"scale": {"xOffset": "independent"}, "axis": {"x": "independent"}},
   "encoding": {"x": {"field": "g", "type": "nominal", "title": null, "scale": {"domain": ["A","B","C","D"]}},
     "y": {"field": "v", "type": "quantitative", "scale": {"domain": [0,1], "nice": false}, "axis": {"title": ["Vector Genome Copies per", "Diploid Genome"], "values": [0,0.2,0.4,0.6,0.8,1], "format": ".1f"}}},
   "layer": [
    {"transform": [{"filter": "datum.k == 'bar'"}], "mark": "bar", "encoding": {"color": {"field": "g", "type": "nominal", "scale": {"domain": ["Veh","A","B","C","D"]}, "legend": null}}},
    {"transform": [{"filter": "datum.k == 'pt'"}], "mark": {"type": "point", "filled": true, "size": 150, "stroke": "white", "opacity": 1},
     "encoding": {"x": {"field": "g", "type": "nominal", "scale": {"domain": ["A","B","C","D"]}, "axis": {"orient": "top", "title": ["Heart:", "Vector Biodistribution"], "labels": false, "ticks": false, "domain": false, "titleFont": "DejaVu Sans Condensed, Liberation Sans, sans-serif", "titleFontSize": 33, "titleLineHeight": 44, "titlePadding": 30, "titleFontWeight": "normal"}},
      "xOffset": {"field": "c", "type": "nominal", "scale": {"domain": [1,4,3,6,2,5]}}, "shape": {"field": "c", "type": "nominal", "scale": {"domain": [1,2,3,4,5,6]}, "legend": null}, "fill": {"condition": {"test": "datum.c > 3", "value": "transparent"}, "field": "g", "type": "nominal", "scale": {"domain": ["Veh","A","B","C","D"]}, "legend": null}, "strokeWidth": {"condition": {"test": "datum.c > 3", "value": 2.2}, "value": 1}}},
    {"transform": [{"joinaggregate": [{"op": "max", "field": "v", "as": "top"}], "groupby": ["g"]}, {"filter": "datum.k == 'bar'"}], "mark": {"type": "text", "dy": -13, "baseline": "alphabetic"},
     "encoding": {"x": {"field": "g", "type": "nominal", "scale": {"domain": ["A","B","C","D"]}, "axis": null}, "y": {"field": "top", "type": "quantitative", "scale": {"domain": [0,1], "nice": false}}, "text": {"field": "l"}}}
   ]},
  {"width": 315, "height": 333, "transform": [{"filter": "datum.p == '1f'"}],
   "resolve": {"scale": {"xOffset": "independent"}, "axis": {"x": "independent"}},
   "encoding": {"x": {"field": "g", "type": "nominal", "title": null, "scale": {"domain": ["A","B","C","D"]}},
     "y": {"field": "v", "type": "quantitative", "scale": {"domain": [0,200], "nice": false}, "axis": {"title": ["Vector Genome Copies per", "Diploid Genome"], "values": [0,25,50,75,100,125,150,175,200], "labelExpr": "datum.value % 50 ? '' : datum.label", "tickSize": {"condition": {"test": "datum.value % 50", "value": 7}, "value": 12}}}},
   "layer": [
    {"transform": [{"filter": "datum.k == 'bar'"}], "mark": "bar", "encoding": {"color": {"field": "g", "type": "nominal", "scale": {"domain": ["Veh","A","B","C","D"]}, "legend": null}}},
    {"transform": [{"filter": "datum.k == 'pt'"}], "mark": {"type": "point", "filled": true, "size": 150, "stroke": "white", "opacity": 1},
     "encoding": {"x": {"field": "g", "type": "nominal", "scale": {"domain": ["A","B","C","D"]}, "axis": {"orient": "top", "title": ["Liver:", "Vector Biodistribution"], "labels": false, "ticks": false, "domain": false, "titleFont": "DejaVu Sans Condensed, Liberation Sans, sans-serif", "titleFontSize": 33, "titleLineHeight": 44, "titlePadding": 30, "titleFontWeight": "normal"}},
      "xOffset": {"field": "c", "type": "nominal", "scale": {"domain": [1,4,3,6,2,5]}}, "shape": {"field": "c", "type": "nominal", "scale": {"domain": [1,2,3,4,5,6]}, "legend": null}, "fill": {"condition": {"test": "datum.c > 3", "value": "transparent"}, "field": "g", "type": "nominal", "scale": {"domain": ["Veh","A","B","C","D"]}, "legend": null}, "strokeWidth": {"condition": {"test": "datum.c > 3", "value": 2.2}, "value": 1}}},
    {"transform": [{"joinaggregate": [{"op": "max", "field": "v", "as": "top"}], "groupby": ["g"]}, {"filter": "datum.k == 'bar'"}], "mark": {"type": "text", "dy": -13, "baseline": "alphabetic"},
     "encoding": {"x": {"field": "g", "type": "nominal", "scale": {"domain": ["A","B","C","D"]}, "axis": null}, "y": {"field": "top", "type": "quantitative", "scale": {"domain": [0,200], "nice": false}}, "text": {"field": "l"}}}
   ]}
 ]
},
{
 "title": {"text": "Quantification of Transgene mRNA (Fold vs Housekeeping)"},
 "bounds": "flush",
 "spacing": 175,
 "hconcat": [
  {"width": 315, "height": 333, "transform": [{"filter": "datum.p == '2a'"}],
   "resolve": {"scale": {"xOffset": "independent"}, "axis": {"x": "independent"}},
   "encoding": {"x": {"field": "g", "type": "nominal", "title": null, "scale": {"domain": ["A","B","C","D"]}},
     "y": {"field": "v", "type": "quantitative", "scale": {"domain": [0,42], "nice": false}, "axis": {"title": ["Transgene mRNA", "Relative to TBP"], "values": [0,5,10,15,20,25,30,35,40], "labelExpr": "datum.value % 10 ? '' : datum.label", "tickSize": {"condition": {"test": "datum.value % 10", "value": 7}, "value": 12}}}},
   "layer": [
    {"transform": [{"filter": "datum.k == 'bar'"}], "mark": "bar", "encoding": {"color": {"field": "g", "type": "nominal", "scale": {"domain": ["Veh","A","B","C","D"]}, "legend": null}}},
    {"transform": [{"filter": "datum.k == 'pt'"}], "mark": {"type": "point", "filled": true, "size": 150, "stroke": "white", "opacity": 1},
     "encoding": {"x": {"field": "g", "type": "nominal", "scale": {"domain": ["A","B","C","D"]}, "axis": {"orient": "top", "title": ["Cervical Spinal Cord:", "Transgene mRNA"], "labels": false, "ticks": false, "domain": false, "titleFont": "DejaVu Sans Condensed, Liberation Sans, sans-serif", "titleFontSize": 33, "titleLineHeight": 44, "titlePadding": 30, "titleFontWeight": "normal"}},
      "xOffset": {"field": "c", "type": "nominal", "scale": {"domain": [1,4,3,6,2,5]}}, "shape": {"field": "c", "type": "nominal", "scale": {"domain": [1,2,3,4,5,6]}, "legend": null}, "fill": {"condition": {"test": "datum.c > 3", "value": "transparent"}, "field": "g", "type": "nominal", "scale": {"domain": ["Veh","A","B","C","D"]}, "legend": null}, "strokeWidth": {"condition": {"test": "datum.c > 3", "value": 2.2}, "value": 1}}},
    {"transform": [{"joinaggregate": [{"op": "max", "field": "v", "as": "top"}], "groupby": ["g"]}, {"filter": "datum.k == 'bar'"}], "mark": {"type": "text", "dy": -13, "baseline": "alphabetic"},
     "encoding": {"x": {"field": "g", "type": "nominal", "scale": {"domain": ["A","B","C","D"]}, "axis": null}, "y": {"field": "top", "type": "quantitative", "scale": {"domain": [0,42], "nice": false}}, "text": {"field": "l"}}}
   ]},
  {"width": 315, "height": 333, "transform": [{"filter": "datum.p == '2b'"}],
   "resolve": {"scale": {"xOffset": "independent"}, "axis": {"x": "independent"}},
   "encoding": {"x": {"field": "g", "type": "nominal", "title": null, "scale": {"domain": ["A","B","C","D"]}},
     "y": {"field": "v", "type": "quantitative", "scale": {"domain": [0,80], "nice": false}, "axis": {"title": ["Transgene mRNA", "Relative to TBP"], "values": [0,20,40,60,80]}}},
   "layer": [
    {"transform": [{"filter": "datum.k == 'bar'"}], "mark": "bar", "encoding": {"color": {"field": "g", "type": "nominal", "scale": {"domain": ["Veh","A","B","C","D"]}, "legend": null}}},
    {"transform": [{"filter": "datum.k == 'pt'"}], "mark": {"type": "point", "filled": true, "size": 150, "stroke": "white", "opacity": 1},
     "encoding": {"x": {"field": "g", "type": "nominal", "scale": {"domain": ["A","B","C","D"]}, "axis": {"orient": "top", "title": ["Motor Cortex:", "Transgene mRNA"], "labels": false, "ticks": false, "domain": false, "titleFont": "DejaVu Sans Condensed, Liberation Sans, sans-serif", "titleFontSize": 33, "titleLineHeight": 44, "titlePadding": 30, "titleFontWeight": "normal"}},
      "xOffset": {"field": "c", "type": "nominal", "scale": {"domain": [1,4,3,6,2,5]}}, "shape": {"field": "c", "type": "nominal", "scale": {"domain": [1,2,3,4,5,6]}, "legend": null}, "fill": {"condition": {"test": "datum.c > 3", "value": "transparent"}, "field": "g", "type": "nominal", "scale": {"domain": ["Veh","A","B","C","D"]}, "legend": null}, "strokeWidth": {"condition": {"test": "datum.c > 3", "value": 2.2}, "value": 1}}},
    {"transform": [{"joinaggregate": [{"op": "max", "field": "v", "as": "top"}], "groupby": ["g"]}, {"filter": "datum.k == 'bar'"}], "mark": {"type": "text", "dy": -13, "baseline": "alphabetic"},
     "encoding": {"x": {"field": "g", "type": "nominal", "scale": {"domain": ["A","B","C","D"]}, "axis": null}, "y": {"field": "top", "type": "quantitative", "scale": {"domain": [0,80], "nice": false}}, "text": {"field": "l"}}}
   ]},
  {"width": 315, "height": 333, "transform": [{"filter": "datum.p == '2c'"}],
   "resolve": {"scale": {"xOffset": "independent"}, "axis": {"x": "independent"}},
   "encoding": {"x": {"field": "g", "type": "nominal", "title": null, "scale": {"domain": ["A","B","C","D"]}},
     "y": {"field": "v", "type": "quantitative", "scale": {"domain": [0,8], "nice": false}, "axis": {"title": ["Transgene mRNA", "Relative to TBP"], "values": [0,2,4,6,8]}}},
   "layer": [
    {"transform": [{"filter": "datum.k == 'bar'"}], "mark": "bar", "encoding": {"color": {"field": "g", "type": "nominal", "scale": {"domain": ["Veh","A","B","C","D"]}, "legend": null}}},
    {"transform": [{"filter": "datum.k == 'pt'"}], "mark": {"type": "point", "filled": true, "size": 150, "stroke": "white", "opacity": 1},
     "encoding": {"x": {"field": "g", "type": "nominal", "scale": {"domain": ["A","B","C","D"]}, "axis": {"orient": "top", "title": ["Putamen:", "Transgene mRNA"], "labels": false, "ticks": false, "domain": false, "titleFont": "DejaVu Sans Condensed, Liberation Sans, sans-serif", "titleFontSize": 33, "titleLineHeight": 44, "titlePadding": 30, "titleFontWeight": "normal"}},
      "xOffset": {"field": "c", "type": "nominal", "scale": {"domain": [1,4,3,6,2,5]}}, "shape": {"field": "c", "type": "nominal", "scale": {"domain": [1,2,3,4,5,6]}, "legend": null}, "fill": {"condition": {"test": "datum.c > 3", "value": "transparent"}, "field": "g", "type": "nominal", "scale": {"domain": ["Veh","A","B","C","D"]}, "legend": null}, "strokeWidth": {"condition": {"test": "datum.c > 3", "value": 2.2}, "value": 1}}},
    {"transform": [{"joinaggregate": [{"op": "max", "field": "v", "as": "top"}], "groupby": ["g"]}, {"filter": "datum.k == 'bar'"}], "mark": {"type": "text", "dy": -13, "baseline": "alphabetic"},
     "encoding": {"x": {"field": "g", "type": "nominal", "scale": {"domain": ["A","B","C","D"]}, "axis": null}, "y": {"field": "top", "type": "quantitative", "scale": {"domain": [0,8], "nice": false}}, "text": {"field": "l"}}}
   ]},
  {"width": 315, "height": 333, "transform": [{"filter": "datum.p == '2d'"}],
   "resolve": {"scale": {"xOffset": "independent"}, "axis": {"x": "independent"}},
   "encoding": {"x": {"field": "g", "type": "nominal", "title": null, "scale": {"domain": ["A","B","C","D"]}},
     "y": {"field": "v", "type": "quantitative", "scale": {"domain": [0,35], "nice": false}, "axis": {"title": ["Transgene mRNA", "Relative to TBP"], "values": [0,5,10,15,20,25,30,35]}}},
   "layer": [
    {"transform": [{"filter": "datum.k == 'bar'"}], "mark": "bar", "encoding": {"color": {"field": "g", "type": "nominal", "scale": {"domain": ["Veh","A","B","C","D"]}, "legend": null}}},
    {"transform": [{"filter": "datum.k == 'pt'"}], "mark": {"type": "point", "filled": true, "size": 150, "stroke": "white", "opacity": 1},
     "encoding": {"x": {"field": "g", "type": "nominal", "scale": {"domain": ["A","B","C","D"]}, "axis": {"orient": "top", "title": ["Dentate Nucleus:", "Transgene mRNA"], "labels": false, "ticks": false, "domain": false, "titleFont": "DejaVu Sans Condensed, Liberation Sans, sans-serif", "titleFontSize": 33, "titleLineHeight": 44, "titlePadding": 30, "titleFontWeight": "normal"}},
      "xOffset": {"field": "c", "type": "nominal", "scale": {"domain": [1,4,3,6,2,5]}}, "shape": {"field": "c", "type": "nominal", "scale": {"domain": [1,2,3,4,5,6]}, "legend": null}, "fill": {"condition": {"test": "datum.c > 3", "value": "transparent"}, "field": "g", "type": "nominal", "scale": {"domain": ["Veh","A","B","C","D"]}, "legend": null}, "strokeWidth": {"condition": {"test": "datum.c > 3", "value": 2.2}, "value": 1}}},
    {"transform": [{"joinaggregate": [{"op": "max", "field": "v", "as": "top"}], "groupby": ["g"]}, {"filter": "datum.k == 'bar'"}], "mark": {"type": "text", "dy": -13, "baseline": "alphabetic"},
     "encoding": {"x": {"field": "g", "type": "nominal", "scale": {"domain": ["A","B","C","D"]}, "axis": null}, "y": {"field": "top", "type": "quantitative", "scale": {"domain": [0,35], "nice": false}}, "text": {"field": "l"}}}
   ]},
  {"width": 315, "height": 333, "transform": [{"filter": "datum.p == '2e'"}],
   "resolve": {"scale": {"xOffset": "independent"}, "axis": {"x": "independent"}},
   "encoding": {"x": {"field": "g", "type": "nominal", "title": null, "scale": {"domain": ["A","B","C","D"]}},
     "y": {"field": "v", "type": "quantitative", "scale": {"domain": [0,20], "nice": false}, "axis": {"title": ["Transgene mRNA", "Relative to TBP"], "values": [0,5,10,15,20]}}},
   "layer": [
    {"transform": [{"filter": "datum.k == 'bar'"}], "mark": "bar", "encoding": {"color": {"field": "g", "type": "nominal", "scale": {"domain": ["Veh","A","B","C","D"]}, "legend": null}}},
    {"transform": [{"filter": "datum.k == 'pt'"}], "mark": {"type": "point", "filled": true, "size": 150, "stroke": "white", "opacity": 1},
     "encoding": {"x": {"field": "g", "type": "nominal", "scale": {"domain": ["A","B","C","D"]}, "axis": {"orient": "top", "title": ["Heart:", "Transgene mRNA"], "labels": false, "ticks": false, "domain": false, "titleFont": "DejaVu Sans Condensed, Liberation Sans, sans-serif", "titleFontSize": 33, "titleLineHeight": 44, "titlePadding": 30, "titleFontWeight": "normal"}},
      "xOffset": {"field": "c", "type": "nominal", "scale": {"domain": [1,4,3,6,2,5]}}, "shape": {"field": "c", "type": "nominal", "scale": {"domain": [1,2,3,4,5,6]}, "legend": null}, "fill": {"condition": {"test": "datum.c > 3", "value": "transparent"}, "field": "g", "type": "nominal", "scale": {"domain": ["Veh","A","B","C","D"]}, "legend": null}, "strokeWidth": {"condition": {"test": "datum.c > 3", "value": 2.2}, "value": 1}}},
    {"transform": [{"joinaggregate": [{"op": "max", "field": "v", "as": "top"}], "groupby": ["g"]}, {"filter": "datum.k == 'bar'"}], "mark": {"type": "text", "dy": -13, "baseline": "alphabetic"},
     "encoding": {"x": {"field": "g", "type": "nominal", "scale": {"domain": ["A","B","C","D"]}, "axis": null}, "y": {"field": "top", "type": "quantitative", "scale": {"domain": [0,20], "nice": false}}, "text": {"field": "l"}}}
   ]},
  {"width": 315, "height": 333, "transform": [{"filter": "datum.p == '2f'"}],
   "resolve": {"scale": {"xOffset": "independent"}, "axis": {"x": "independent"}},
   "encoding": {"x": {"field": "g", "type": "nominal", "title": null, "scale": {"domain": ["A","B","C","D"]}},
     "y": {"field": "v", "type": "quantitative", "scale": {"domain": [0,4], "nice": false}, "axis": {"title": ["Transgene mRNA", "Relative to TBP"], "values": [0,1,2,3,4]}}},
   "layer": [
    {"transform": [{"filter": "datum.k == 'bar'"}], "mark": "bar", "encoding": {"color": {"field": "g", "type": "nominal", "scale": {"domain": ["Veh","A","B","C","D"]}, "legend": null}}},
    {"transform": [{"filter": "datum.k == 'pt'"}], "mark": {"type": "point", "filled": true, "size": 150, "stroke": "white", "opacity": 1},
     "encoding": {"x": {"field": "g", "type": "nominal", "scale": {"domain": ["A","B","C","D"]}, "axis": {"orient": "top", "title": ["Liver:", "Transgene mRNA"], "labels": false, "ticks": false, "domain": false, "titleFont": "DejaVu Sans Condensed, Liberation Sans, sans-serif", "titleFontSize": 33, "titleLineHeight": 44, "titlePadding": 30, "titleFontWeight": "normal"}},
      "xOffset": {"field": "c", "type": "nominal", "scale": {"domain": [1,4,3,6,2,5]}}, "shape": {"field": "c", "type": "nominal", "scale": {"domain": [1,2,3,4,5,6]}, "legend": null}, "fill": {"condition": {"test": "datum.c > 3", "value": "transparent"}, "field": "g", "type": "nominal", "scale": {"domain": ["Veh","A","B","C","D"]}, "legend": null}, "strokeWidth": {"condition": {"test": "datum.c > 3", "value": 2.2}, "value": 1}}},
    {"transform": [{"joinaggregate": [{"op": "max", "field": "v", "as": "top"}], "groupby": ["g"]}, {"filter": "datum.k == 'bar'"}], "mark": {"type": "text", "dy": -13, "baseline": "alphabetic"},
     "encoding": {"x": {"field": "g", "type": "nominal", "scale": {"domain": ["A","B","C","D"]}, "axis": null}, "y": {"field": "top", "type": "quantitative", "scale": {"domain": [0,4], "nice": false}}, "text": {"field": "l"}}}
   ]}
 ]
},
{
 "title": {"text": "Quantification of Transgene mRNA vs. Endogenous Transcript"},
 "bounds": "flush",
 "spacing": 175,
 "hconcat": [
  {"width": 315, "height": 333, "transform": [{"filter": "datum.p == '3a'"}],
   "resolve": {"scale": {"xOffset": "independent"}, "axis": {"x": "independent"}},
   "encoding": {"x": {"field": "g", "type": "nominal", "title": null, "scale": {"domain": ["Veh","A","B","C","D"]}},
     "y": {"field": "v", "type": "quantitative", "scale": {"domain": [0,100], "nice": false}, "axis": {"title": ["Transgene mRNA", "(FC Relative to Vehicle)"], "titleFontSize": 21, "titleLineHeight": 26, "values": [0,25,50,75,100], "labelExpr": "datum.value % 50 ? '' : datum.label", "tickSize": {"condition": {"test": "datum.value % 50", "value": 7}, "value": 12}}}},
   "layer": [
    {"transform": [{"filter": "datum.k == 'bar'"}], "mark": {"type": "bar", "opacity": 0.45}, "encoding": {"color": {"field": "g", "type": "nominal", "scale": {"domain": ["Veh","A","B","C","D"]}, "legend": null}}},
    {"transform": [{"filter": "datum.k == 'pt'"}], "mark": {"type": "point", "filled": true, "size": 150, "stroke": "white", "opacity": 1},
     "encoding": {"x": {"field": "g", "type": "nominal", "scale": {"domain": ["Veh","A","B","C","D"]}, "axis": {"orient": "top", "title": ["Cervical Spinal Cord", "Transgene vs  Endo. mRNA"], "labels": false, "ticks": false, "domain": false, "titleFont": "DejaVu Sans Condensed, Liberation Sans, sans-serif", "titleFontSize": 33, "titleLineHeight": 44, "titlePadding": 30, "titleFontWeight": "normal"}},
      "xOffset": {"field": "c", "type": "nominal", "scale": {"domain": [1,4,3,6,2,5]}}, "shape": {"field": "c", "type": "nominal", "scale": {"domain": [1,2,3,4,5,6]}, "legend": null}, "fill": {"condition": {"test": "datum.c > 3", "value": "transparent"}, "field": "g", "type": "nominal", "scale": {"domain": ["Veh","A","B","C","D"]}, "legend": null}, "strokeWidth": {"condition": {"test": "datum.c > 3", "value": 2.2}, "value": 1}}},
    {"transform": [{"joinaggregate": [{"op": "max", "field": "v", "as": "top"}], "groupby": ["g"]}, {"filter": "datum.k == 'bar'"}], "mark": {"type": "text", "dy": -13, "baseline": "alphabetic"},
     "encoding": {"x": {"field": "g", "type": "nominal", "scale": {"domain": ["Veh","A","B","C","D"]}, "axis": null}, "y": {"field": "top", "type": "quantitative", "scale": {"domain": [0,100], "nice": false}}, "text": {"field": "l"}}}
   ]},
  {"width": 315, "height": 333, "transform": [{"filter": "datum.p == '3b'"}],
   "resolve": {"scale": {"xOffset": "independent"}, "axis": {"x": "independent"}},
   "encoding": {"x": {"field": "g", "type": "nominal", "title": null, "scale": {"domain": ["Veh","A","B","C","D"]}},
     "y": {"field": "v", "type": "quantitative", "scale": {"domain": [0,250], "nice": false}, "axis": {"title": [" ", "FC relative to vehicle"], "values": [0,50,100,150,200,250]}}},
   "layer": [
    {"transform": [{"filter": "datum.k == 'bar'"}], "mark": "bar", "encoding": {"color": {"field": "g", "type": "nominal", "scale": {"domain": ["Veh","A","B","C","D"]}, "legend": null}}},
    {"transform": [{"filter": "datum.k == 'pt'"}], "mark": {"type": "point", "filled": true, "size": 150, "stroke": "white", "opacity": 1},
     "encoding": {"x": {"field": "g", "type": "nominal", "scale": {"domain": ["Veh","A","B","C","D"]}, "axis": {"orient": "top", "title": ["Motor Cortex:", "Transgene vs Endo. mRNA"], "labels": false, "ticks": false, "domain": false, "titleFont": "DejaVu Sans Condensed, Liberation Sans, sans-serif", "titleFontSize": 33, "titleLineHeight": 44, "titlePadding": 30, "titleFontWeight": "normal"}},
      "xOffset": {"field": "c", "type": "nominal", "scale": {"domain": [1,4,3,6,2,5]}}, "shape": {"field": "c", "type": "nominal", "scale": {"domain": [1,2,3,4,5,6]}, "legend": null}, "fill": {"condition": {"test": "datum.c > 3", "value": "transparent"}, "field": "g", "type": "nominal", "scale": {"domain": ["Veh","A","B","C","D"]}, "legend": null}, "strokeWidth": {"condition": {"test": "datum.c > 3", "value": 2.2}, "value": 1}}},
    {"transform": [{"joinaggregate": [{"op": "max", "field": "v", "as": "top"}], "groupby": ["g"]}, {"filter": "datum.k == 'bar'"}], "mark": {"type": "text", "dy": -13, "baseline": "alphabetic"},
     "encoding": {"x": {"field": "g", "type": "nominal", "scale": {"domain": ["Veh","A","B","C","D"]}, "axis": null}, "y": {"field": "top", "type": "quantitative", "scale": {"domain": [0,250], "nice": false}}, "text": {"field": "l"}}}
   ]},
  {"width": 315, "height": 333, "transform": [{"filter": "datum.p == '3c'"}],
   "resolve": {"scale": {"xOffset": "independent"}, "axis": {"x": "independent"}},
   "encoding": {"x": {"field": "g", "type": "nominal", "title": null, "scale": {"domain": ["Veh","A","B","C","D"]}},
     "y": {"field": "v", "type": "quantitative", "scale": {"domain": [0,40], "nice": false}, "axis": {"title": ["Transgene mRNA", "FC Relative to Vehicle"], "values": [0,10,20,30,40]}}},
   "layer": [
    {"transform": [{"filter": "datum.k == 'bar'"}], "mark": "bar", "encoding": {"color": {"field": "g", "type": "nominal", "scale": {"domain": ["Veh","A","B","C","D"]}, "legend": null}}},
    {"transform": [{"filter": "datum.k == 'pt'"}], "mark": {"type": "point", "filled": true, "size": 150, "stroke": "white", "opacity": 1},
     "encoding": {"x": {"field": "g", "type": "nominal", "scale": {"domain": ["Veh","A","B","C","D"]}, "axis": {"orient": "top", "title": ["Putamen:", "Transgene vs Endo. mRNA"], "labels": false, "ticks": false, "domain": false, "titleFont": "DejaVu Sans Condensed, Liberation Sans, sans-serif", "titleFontSize": 33, "titleLineHeight": 44, "titlePadding": 30, "titleFontWeight": "normal"}},
      "xOffset": {"field": "c", "type": "nominal", "scale": {"domain": [1,4,3,6,2,5]}}, "shape": {"field": "c", "type": "nominal", "scale": {"domain": [1,2,3,4,5,6]}, "legend": null}, "fill": {"condition": {"test": "datum.c > 3", "value": "transparent"}, "field": "g", "type": "nominal", "scale": {"domain": ["Veh","A","B","C","D"]}, "legend": null}, "strokeWidth": {"condition": {"test": "datum.c > 3", "value": 2.2}, "value": 1}}},
    {"transform": [{"joinaggregate": [{"op": "max", "field": "v", "as": "top"}], "groupby": ["g"]}, {"filter": "datum.k == 'bar'"}], "mark": {"type": "text", "dy": -13, "baseline": "alphabetic"},
     "encoding": {"x": {"field": "g", "type": "nominal", "scale": {"domain": ["Veh","A","B","C","D"]}, "axis": null}, "y": {"field": "top", "type": "quantitative", "scale": {"domain": [0,40], "nice": false}}, "text": {"field": "l"}}}
   ]},
  {"width": 315, "height": 333, "transform": [{"filter": "datum.p == '3d'"}],
   "resolve": {"scale": {"xOffset": "independent"}, "axis": {"x": "independent"}},
   "encoding": {"x": {"field": "g", "type": "nominal", "title": null, "scale": {"domain": ["Veh","A","B","C","D"]}},
     "y": {"field": "v", "type": "quantitative", "scale": {"domain": [0,125], "nice": false}, "axis": {"title": ["Transgene mRNA", "FC relative to Vehicle"], "values": [0,25,50,75,100,125]}}},
   "layer": [
    {"transform": [{"filter": "datum.k == 'bar'"}], "mark": "bar", "encoding": {"color": {"field": "g", "type": "nominal", "scale": {"domain": ["Veh","A","B","C","D"]}, "legend": null}}},
    {"transform": [{"filter": "datum.k == 'pt'"}], "mark": {"type": "point", "filled": true, "size": 150, "stroke": "white", "opacity": 1},
     "encoding": {"x": {"field": "g", "type": "nominal", "scale": {"domain": ["Veh","A","B","C","D"]}, "axis": {"orient": "top", "title": ["Dentate Nucleus:", "Transgene vs Endo. mRNA"], "labels": false, "ticks": false, "domain": false, "titleFont": "DejaVu Sans Condensed, Liberation Sans, sans-serif", "titleFontSize": 33, "titleLineHeight": 44, "titlePadding": 30, "titleFontWeight": "normal"}},
      "xOffset": {"field": "c", "type": "nominal", "scale": {"domain": [1,4,3,6,2,5]}}, "shape": {"field": "c", "type": "nominal", "scale": {"domain": [1,2,3,4,5,6]}, "legend": null}, "fill": {"condition": {"test": "datum.c > 3", "value": "transparent"}, "field": "g", "type": "nominal", "scale": {"domain": ["Veh","A","B","C","D"]}, "legend": null}, "strokeWidth": {"condition": {"test": "datum.c > 3", "value": 2.2}, "value": 1}}},
    {"transform": [{"joinaggregate": [{"op": "max", "field": "v", "as": "top"}], "groupby": ["g"]}, {"filter": "datum.k == 'bar'"}], "mark": {"type": "text", "dy": -13, "baseline": "alphabetic"},
     "encoding": {"x": {"field": "g", "type": "nominal", "scale": {"domain": ["Veh","A","B","C","D"]}, "axis": null}, "y": {"field": "top", "type": "quantitative", "scale": {"domain": [0,125], "nice": false}}, "text": {"field": "l"}}}
   ]},
  {"width": 315, "height": 333, "transform": [{"filter": "datum.p == '3e'"}],
   "resolve": {"scale": {"xOffset": "independent"}, "axis": {"x": "independent"}},
   "encoding": {"x": {"field": "g", "type": "nominal", "title": null, "scale": {"domain": ["Veh","A","B","C","D"]}},
     "y": {"field": "v", "type": "quantitative", "scale": {"domain": [0,25], "nice": false}, "axis": {"title": ["Transgene mRNA", "FC Relative to Vehicle"], "values": [0,5,10,15,20,25]}}},
   "layer": [
    {"transform": [{"filter": "datum.k == 'bar'"}], "mark": "bar", "encoding": {"color": {"field": "g", "type": "nominal", "scale": {"domain": ["Veh","A","B","C","D"]}, "legend": null}}},
    {"transform": [{"filter": "datum.k == 'pt'"}], "mark": {"type": "point", "filled": true, "size": 150, "stroke": "white", "opacity": 1},
     "encoding": {"x": {"field": "g", "type": "nominal", "scale": {"domain": ["Veh","A","B","C","D"]}, "axis": {"orient": "top", "title": ["Heart:", "Transgene vs Endo. mRNA"], "labels": false, "ticks": false, "domain": false, "titleFont": "DejaVu Sans Condensed, Liberation Sans, sans-serif", "titleFontSize": 33, "titleLineHeight": 44, "titlePadding": 30, "titleFontWeight": "normal"}},
      "xOffset": {"field": "c", "type": "nominal", "scale": {"domain": [1,4,3,6,2,5]}}, "shape": {"field": "c", "type": "nominal", "scale": {"domain": [1,2,3,4,5,6]}, "legend": null}, "fill": {"condition": {"test": "datum.c > 3", "value": "transparent"}, "field": "g", "type": "nominal", "scale": {"domain": ["Veh","A","B","C","D"]}, "legend": null}, "strokeWidth": {"condition": {"test": "datum.c > 3", "value": 2.2}, "value": 1}}},
    {"transform": [{"joinaggregate": [{"op": "max", "field": "v", "as": "top"}], "groupby": ["g"]}, {"filter": "datum.k == 'bar'"}], "mark": {"type": "text", "dy": -13, "baseline": "alphabetic"},
     "encoding": {"x": {"field": "g", "type": "nominal", "scale": {"domain": ["Veh","A","B","C","D"]}, "axis": null}, "y": {"field": "top", "type": "quantitative", "scale": {"domain": [0,25], "nice": false}}, "text": {"field": "l"}}}
   ]},
  {"width": 315, "height": 333, "transform": [{"filter": "datum.p == '3f'"}],
   "resolve": {"scale": {"xOffset": "independent"}, "axis": {"x": "independent"}},
   "encoding": {"x": {"field": "g", "type": "nominal", "title": null, "scale": {"domain": ["Veh","A","B","C","D"]}},
     "y": {"field": "v", "type": "quantitative", "scale": {"domain": [0,5], "nice": false}, "axis": {"title": ["Transgene mRNA", "FC Relative to Vehicle"], "values": [0,1,2,3,4,5]}}},
   "layer": [
    {"transform": [{"filter": "datum.k == 'bar'"}], "mark": "bar", "encoding": {"color": {"field": "g", "type": "nominal", "scale": {"domain": ["Veh","A","B","C","D"]}, "legend": null}}},
    {"transform": [{"filter": "datum.k == 'pt'"}], "mark": {"type": "point", "filled": true, "size": 150, "stroke": "white", "opacity": 1},
     "encoding": {"x": {"field": "g", "type": "nominal", "scale": {"domain": ["Veh","A","B","C","D"]}, "axis": {"orient": "top", "title": ["Liver:", "Transgene vs Endo. mRNA"], "labels": false, "ticks": false, "domain": false, "titleFont": "DejaVu Sans Condensed, Liberation Sans, sans-serif", "titleFontSize": 33, "titleLineHeight": 44, "titlePadding": 30, "titleFontWeight": "normal"}},
      "xOffset": {"field": "c", "type": "nominal", "scale": {"domain": [1,4,3,6,2,5]}}, "shape": {"field": "c", "type": "nominal", "scale": {"domain": [1,2,3,4,5,6]}, "legend": null}, "fill": {"condition": {"test": "datum.c > 3", "value": "transparent"}, "field": "g", "type": "nominal", "scale": {"domain": ["Veh","A","B","C","D"]}, "legend": null}, "strokeWidth": {"condition": {"test": "datum.c > 3", "value": 2.2}, "value": 1}}},
    {"transform": [{"joinaggregate": [{"op": "max", "field": "v", "as": "top"}], "groupby": ["g"]}, {"filter": "datum.k == 'bar'"}], "mark": {"type": "text", "dy": -13, "baseline": "alphabetic"},
     "encoding": {"x": {"field": "g", "type": "nominal", "scale": {"domain": ["Veh","A","B","C","D"]}, "axis": null}, "y": {"field": "top", "type": "quantitative", "scale": {"domain": [0,5], "nice": false}}, "text": {"field": "l"}}}
   ]}
 ]
},
{
 "title": {"text": "Quantification of Total Transgene Protein in Peripheral Tissues"},
 "bounds": "flush",
 "spacing": 175,
 "hconcat": [
  {"width": 315, "height": 333, "transform": [{"filter": "datum.p == '4a'"}],
   "resolve": {"scale": {"xOffset": "independent"}, "axis": {"x": "independent"}},
   "encoding": {"x": {"field": "g", "type": "nominal", "title": null, "scale": {"domain": ["Veh","A","B","C","D"]}, "axis": {"labels": false}},
     "y": {"field": "v", "type": "quantitative", "scale": {"domain": [0,40], "nice": false}, "axis": {"title": [" ", "Transgene (ng/mg)"], "values": [0,10,20,30,40]}}},
   "layer": [
    {"transform": [{"filter": "datum.k == 'bar'"}], "mark": "bar", "encoding": {"color": {"field": "g", "type": "nominal", "scale": {"domain": ["Veh","A","B","C","D"]}, "legend": null}}},
    {"transform": [{"filter": "datum.k == 'pt'"}], "mark": {"type": "point", "filled": true, "size": 150, "stroke": "white", "opacity": 1},
     "encoding": {"x": {"field": "g", "type": "nominal", "scale": {"domain": ["Veh","A","B","C","D"]}, "axis": {"orient": "top", "title": ["Cervical DRG:", "Transgene ELISA"], "labels": false, "ticks": false, "domain": false, "titleFont": "DejaVu Sans Condensed, Liberation Sans, sans-serif", "titleFontSize": 33, "titleLineHeight": 44, "titlePadding": 30, "titleFontWeight": "normal"}},
      "xOffset": {"field": "c", "type": "nominal", "scale": {"domain": [1,4,3,6,2,5]}}, "shape": {"field": "c", "type": "nominal", "scale": {"domain": [1,2,3,4,5,6]}, "legend": null}, "fill": {"condition": {"test": "datum.c > 3", "value": "transparent"}, "field": "g", "type": "nominal", "scale": {"domain": ["Veh","A","B","C","D"]}, "legend": null}, "strokeWidth": {"condition": {"test": "datum.c > 3", "value": 2.2}, "value": 1}}},
    {"transform": [{"joinaggregate": [{"op": "max", "field": "v", "as": "top"}], "groupby": ["g"]}, {"filter": "datum.k == 'bar'"}], "mark": {"type": "text", "dy": -13, "baseline": "alphabetic"},
     "encoding": {"x": {"field": "g", "type": "nominal", "scale": {"domain": ["Veh","A","B","C","D"]}, "axis": null}, "y": {"field": "top", "type": "quantitative", "scale": {"domain": [0,40], "nice": false}}, "text": {"field": "l"}}}
   ]},
  {"width": 315, "height": 333, "transform": [{"filter": "datum.p == '4b'"}],
   "resolve": {"scale": {"xOffset": "independent"}, "axis": {"x": "independent"}},
   "encoding": {"x": {"field": "g", "type": "nominal", "title": null, "scale": {"domain": ["Veh","A","B","C","D"]}, "axis": {"labels": false}},
     "y": {"field": "v", "type": "quantitative", "scale": {"domain": [0,125], "nice": false}, "axis": {"title": [" ", "Transgene (ng/mg)"], "values": [0,25,50,75,100,125]}}},
   "layer": [
    {"transform": [{"filter": "datum.k == 'bar'"}], "mark": "bar", "encoding": {"color": {"field": "g", "type": "nominal", "scale": {"domain": ["Veh","A","B","C","D"]}, "legend": null}}},
    {"transform": [{"filter": "datum.k == 'pt'"}], "mark": {"type": "point", "filled": true, "size": 150, "stroke": "white", "opacity": 1},
     "encoding": {"x": {"field": "g", "type": "nominal", "scale": {"domain": ["Veh","A","B","C","D"]}, "axis": {"orient": "top", "title": ["Heart:", "Transgene ELISA"], "labels": false, "ticks": false, "domain": false, "titleFont": "DejaVu Sans Condensed, Liberation Sans, sans-serif", "titleFontSize": 33, "titleLineHeight": 44, "titlePadding": 30, "titleFontWeight": "normal"}},
      "xOffset": {"field": "c", "type": "nominal", "scale": {"domain": [1,4,3,6,2,5]}}, "shape": {"field": "c", "type": "nominal", "scale": {"domain": [1,2,3,4,5,6]}, "legend": null}, "fill": {"condition": {"test": "datum.c > 3", "value": "transparent"}, "field": "g", "type": "nominal", "scale": {"domain": ["Veh","A","B","C","D"]}, "legend": null}, "strokeWidth": {"condition": {"test": "datum.c > 3", "value": 2.2}, "value": 1}}},
    {"transform": [{"joinaggregate": [{"op": "max", "field": "v", "as": "top"}], "groupby": ["g"]}, {"filter": "datum.k == 'bar'"}], "mark": {"type": "text", "dy": -13, "baseline": "alphabetic", "fontSize": 21},
     "encoding": {"x": {"field": "g", "type": "nominal", "scale": {"domain": ["Veh","A","B","C","D"]}, "axis": null}, "y": {"field": "top", "type": "quantitative", "scale": {"domain": [0,125], "nice": false}}, "text": {"field": "l"}}}
   ]},
  {"width": 315, "height": 333, "transform": [{"filter": "datum.p == '4c'"}],
   "resolve": {"scale": {"xOffset": "independent"}, "axis": {"x": "independent"}},
   "encoding": {"x": {"field": "g", "type": "nominal", "title": null, "scale": {"domain": ["Veh","A","B","C","D"]}, "axis": {"labels": false}},
     "y": {"field": "v", "type": "quantitative", "scale": {"domain": [0,30], "nice": false}, "axis": {"title": [" ", "Transgene (ng/mg)"], "values": [0,5,10,15,20,25,30], "labelExpr": "datum.value % 10 ? '' : datum.label", "tickSize": {"condition": {"test": "datum.value % 10", "value": 7}, "value": 12}}}},
   "layer": [
    {"transform": [{"filter": "datum.k == 'bar'"}], "mark": "bar", "encoding": {"color": {"field": "g", "type": "nominal", "scale": {"domain": ["Veh","A","B","C","D"]}, "legend": null}}},
    {"transform": [{"filter": "datum.k == 'pt'"}], "mark": {"type": "point", "filled": true, "size": 150, "stroke": "white", "opacity": 1},
     "encoding": {"x": {"field": "g", "type": "nominal", "scale": {"domain": ["Veh","A","B","C","D"]}, "axis": {"orient": "top", "title": ["Liver:", "Transgene ELISA"], "labels": false, "ticks": false, "domain": false, "titleFont": "DejaVu Sans Condensed, Liberation Sans, sans-serif", "titleFontSize": 33, "titleLineHeight": 44, "titlePadding": 30, "titleFontWeight": "normal"}},
      "xOffset": {"field": "c", "type": "nominal", "scale": {"domain": [1,4,3,6,2,5]}}, "shape": {"field": "c", "type": "nominal", "scale": {"domain": [1,2,3,4,5,6]}, "legend": null}, "fill": {"condition": {"test": "datum.c > 3", "value": "transparent"}, "field": "g", "type": "nominal", "scale": {"domain": ["Veh","A","B","C","D"]}, "legend": null}, "strokeWidth": {"condition": {"test": "datum.c > 3", "value": 2.2}, "value": 1}}},
    {"transform": [{"joinaggregate": [{"op": "max", "field": "v", "as": "top"}], "groupby": ["g"]}, {"filter": "datum.k == 'bar'"}], "mark": {"type": "text", "dy": -13, "baseline": "alphabetic"},
     "encoding": {"x": {"field": "g", "type": "nominal", "scale": {"domain": ["Veh","A","B","C","D"]}, "axis": null}, "y": {"field": "top", "type": "quantitative", "scale": {"domain": [0,30], "nice": false}}, "text": {"field": "l"}}}
   ]},
  {"width": 1270, "height": 260,
   "data": {"values": [{"g": "A", "t": "A: 6.7E11 vg/kg"}, {"g": "B", "t": "B: 2e12 vg/kg"}, {"g": "C", "t": "C: 6.7e12 vg/kg"}, {"g": "D", "t": "D: 2e13 vg/kg"}]},
   "mark": {"type": "text", "align": "left", "baseline": "middle", "fontSize": 46, "dy": -71},
   "encoding": {
     "x": {"datum": 0, "type": "quantitative", "scale": {"domain": [0,1]}, "axis": null},
     "y": {"field": "g", "type": "nominal", "axis": null, "scale": {"domain": ["A","B","C","D"]}},
     "text": {"field": "t"},
     "color": {"field": "g", "type": "nominal", "scale": {"domain": ["Veh","A","B","C","D"]}, "legend": null}
   }}
 ]
}
]
}
